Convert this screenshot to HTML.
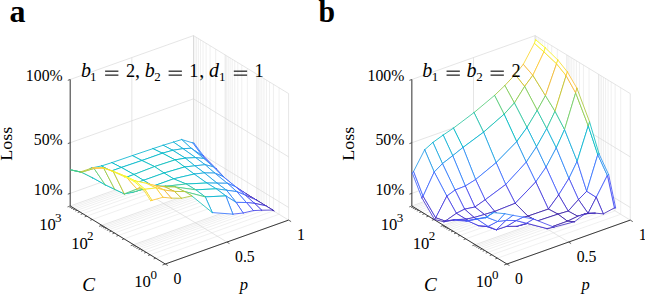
<!DOCTYPE html><html><head><meta charset="utf-8"><style>html,body{margin:0;padding:0;background:#fff;}svg{display:block;}</style></head><body><svg width="645" height="295" viewBox="0 0 645 295" font-family="&quot;Liberation Serif&quot;, serif" fill="#000">
<rect width="645" height="295" fill="#fff"/>
<line x1="155.76" y1="258.18" x2="279.06" y2="214.28" stroke="#e4e4e4" stroke-width="0.55"/>
<line x1="150.18" y1="254.78" x2="273.48" y2="210.88" stroke="#e4e4e4" stroke-width="0.55"/>
<line x1="146.21" y1="252.36" x2="269.51" y2="208.46" stroke="#e4e4e4" stroke-width="0.55"/>
<line x1="143.14" y1="250.49" x2="266.44" y2="206.59" stroke="#e4e4e4" stroke-width="0.55"/>
<line x1="140.63" y1="248.96" x2="263.93" y2="205.06" stroke="#e4e4e4" stroke-width="0.55"/>
<line x1="138.51" y1="247.66" x2="261.81" y2="203.76" stroke="#e4e4e4" stroke-width="0.55"/>
<line x1="136.67" y1="246.54" x2="259.97" y2="202.64" stroke="#e4e4e4" stroke-width="0.55"/>
<line x1="135.05" y1="245.55" x2="258.35" y2="201.65" stroke="#e4e4e4" stroke-width="0.55"/>
<line x1="124.06" y1="238.85" x2="247.36" y2="194.95" stroke="#e4e4e4" stroke-width="0.55"/>
<line x1="118.48" y1="235.44" x2="241.78" y2="191.54" stroke="#e4e4e4" stroke-width="0.55"/>
<line x1="114.51" y1="233.03" x2="237.81" y2="189.13" stroke="#e4e4e4" stroke-width="0.55"/>
<line x1="111.44" y1="231.15" x2="234.74" y2="187.25" stroke="#e4e4e4" stroke-width="0.55"/>
<line x1="108.93" y1="229.62" x2="232.23" y2="185.72" stroke="#e4e4e4" stroke-width="0.55"/>
<line x1="106.81" y1="228.33" x2="230.11" y2="184.43" stroke="#e4e4e4" stroke-width="0.55"/>
<line x1="104.97" y1="227.21" x2="228.27" y2="183.31" stroke="#e4e4e4" stroke-width="0.55"/>
<line x1="103.35" y1="226.22" x2="226.65" y2="182.32" stroke="#e4e4e4" stroke-width="0.55"/>
<line x1="92.36" y1="219.51" x2="215.66" y2="175.61" stroke="#e4e4e4" stroke-width="0.55"/>
<line x1="86.78" y1="216.11" x2="210.08" y2="172.21" stroke="#e4e4e4" stroke-width="0.55"/>
<line x1="82.81" y1="213.69" x2="206.11" y2="169.79" stroke="#e4e4e4" stroke-width="0.55"/>
<line x1="79.74" y1="211.82" x2="203.04" y2="167.92" stroke="#e4e4e4" stroke-width="0.55"/>
<line x1="77.23" y1="210.29" x2="200.53" y2="166.39" stroke="#e4e4e4" stroke-width="0.55"/>
<line x1="75.11" y1="208.99" x2="198.41" y2="165.09" stroke="#e4e4e4" stroke-width="0.55"/>
<line x1="73.27" y1="207.87" x2="196.57" y2="163.97" stroke="#e4e4e4" stroke-width="0.55"/>
<line x1="71.65" y1="206.88" x2="194.95" y2="162.98" stroke="#e4e4e4" stroke-width="0.55"/>
<line x1="165.3" y1="264" x2="288.6" y2="220.1" stroke="#d4d4d4" stroke-width="0.6"/>
<line x1="133.6" y1="244.67" x2="256.9" y2="200.77" stroke="#d4d4d4" stroke-width="0.6"/>
<line x1="101.9" y1="225.33" x2="225.2" y2="181.43" stroke="#d4d4d4" stroke-width="0.6"/>
<line x1="70.2" y1="206" x2="193.5" y2="162.1" stroke="#d4d4d4" stroke-width="0.6"/>
<line x1="165.3" y1="264" x2="70.2" y2="206" stroke="#d4d4d4" stroke-width="0.6"/>
<line x1="226.95" y1="242.05" x2="131.85" y2="184.05" stroke="#d4d4d4" stroke-width="0.6"/>
<line x1="288.6" y1="220.1" x2="193.5" y2="162.1" stroke="#d4d4d4" stroke-width="0.6"/>
<line x1="279.06" y1="214.28" x2="279.06" y2="87.78" stroke="#e4e4e4" stroke-width="0.55"/>
<line x1="273.48" y1="210.88" x2="273.48" y2="84.38" stroke="#e4e4e4" stroke-width="0.55"/>
<line x1="269.51" y1="208.46" x2="269.51" y2="81.96" stroke="#e4e4e4" stroke-width="0.55"/>
<line x1="266.44" y1="206.59" x2="266.44" y2="80.09" stroke="#e4e4e4" stroke-width="0.55"/>
<line x1="263.93" y1="205.06" x2="263.93" y2="78.56" stroke="#e4e4e4" stroke-width="0.55"/>
<line x1="261.81" y1="203.76" x2="261.81" y2="77.26" stroke="#e4e4e4" stroke-width="0.55"/>
<line x1="259.97" y1="202.64" x2="259.97" y2="76.14" stroke="#e4e4e4" stroke-width="0.55"/>
<line x1="258.35" y1="201.65" x2="258.35" y2="75.15" stroke="#e4e4e4" stroke-width="0.55"/>
<line x1="247.36" y1="194.95" x2="247.36" y2="68.45" stroke="#e4e4e4" stroke-width="0.55"/>
<line x1="241.78" y1="191.54" x2="241.78" y2="65.04" stroke="#e4e4e4" stroke-width="0.55"/>
<line x1="237.81" y1="189.13" x2="237.81" y2="62.63" stroke="#e4e4e4" stroke-width="0.55"/>
<line x1="234.74" y1="187.25" x2="234.74" y2="60.75" stroke="#e4e4e4" stroke-width="0.55"/>
<line x1="232.23" y1="185.72" x2="232.23" y2="59.22" stroke="#e4e4e4" stroke-width="0.55"/>
<line x1="230.11" y1="184.43" x2="230.11" y2="57.93" stroke="#e4e4e4" stroke-width="0.55"/>
<line x1="228.27" y1="183.31" x2="228.27" y2="56.81" stroke="#e4e4e4" stroke-width="0.55"/>
<line x1="226.65" y1="182.32" x2="226.65" y2="55.82" stroke="#e4e4e4" stroke-width="0.55"/>
<line x1="215.66" y1="175.61" x2="215.66" y2="49.11" stroke="#e4e4e4" stroke-width="0.55"/>
<line x1="210.08" y1="172.21" x2="210.08" y2="45.71" stroke="#e4e4e4" stroke-width="0.55"/>
<line x1="206.11" y1="169.79" x2="206.11" y2="43.29" stroke="#e4e4e4" stroke-width="0.55"/>
<line x1="203.04" y1="167.92" x2="203.04" y2="41.42" stroke="#e4e4e4" stroke-width="0.55"/>
<line x1="200.53" y1="166.39" x2="200.53" y2="39.89" stroke="#e4e4e4" stroke-width="0.55"/>
<line x1="198.41" y1="165.09" x2="198.41" y2="38.59" stroke="#e4e4e4" stroke-width="0.55"/>
<line x1="196.57" y1="163.97" x2="196.57" y2="37.47" stroke="#e4e4e4" stroke-width="0.55"/>
<line x1="194.95" y1="162.98" x2="194.95" y2="36.48" stroke="#e4e4e4" stroke-width="0.55"/>
<line x1="288.6" y1="220.1" x2="288.6" y2="93.6" stroke="#d4d4d4" stroke-width="0.6"/>
<line x1="256.9" y1="200.77" x2="256.9" y2="74.27" stroke="#d4d4d4" stroke-width="0.6"/>
<line x1="225.2" y1="181.43" x2="225.2" y2="54.93" stroke="#d4d4d4" stroke-width="0.6"/>
<line x1="193.5" y1="162.1" x2="193.5" y2="35.6" stroke="#d4d4d4" stroke-width="0.6"/>
<line x1="288.6" y1="207.45" x2="193.5" y2="149.45" stroke="#d4d4d4" stroke-width="0.6"/>
<line x1="288.6" y1="156.85" x2="193.5" y2="98.85" stroke="#d4d4d4" stroke-width="0.6"/>
<line x1="288.6" y1="93.6" x2="193.5" y2="35.6" stroke="#d4d4d4" stroke-width="0.6"/>
<line x1="70.2" y1="206" x2="70.2" y2="79.5" stroke="#d4d4d4" stroke-width="0.6"/>
<line x1="131.85" y1="184.05" x2="131.85" y2="57.55" stroke="#d4d4d4" stroke-width="0.6"/>
<line x1="193.5" y1="162.1" x2="193.5" y2="35.6" stroke="#d4d4d4" stroke-width="0.6"/>
<line x1="70.2" y1="193.35" x2="193.5" y2="149.45" stroke="#d4d4d4" stroke-width="0.6"/>
<line x1="70.2" y1="142.75" x2="193.5" y2="98.85" stroke="#d4d4d4" stroke-width="0.6"/>
<line x1="70.2" y1="79.5" x2="193.5" y2="35.6" stroke="#d4d4d4" stroke-width="0.6"/>
<line x1="70.2" y1="206" x2="70.2" y2="79.5" stroke="#3a3a3a" stroke-width="1.0"/>
<line x1="165.3" y1="264" x2="70.2" y2="206" stroke="#3a3a3a" stroke-width="1.0"/>
<line x1="165.3" y1="264" x2="288.6" y2="220.1" stroke="#3a3a3a" stroke-width="1.0"/>
<line x1="70.2" y1="193.35" x2="67.8" y2="194.2" stroke="#3a3a3a" stroke-width="0.8"/>
<line x1="70.2" y1="142.75" x2="67.8" y2="143.6" stroke="#3a3a3a" stroke-width="0.8"/>
<line x1="70.2" y1="79.5" x2="67.8" y2="80.35" stroke="#3a3a3a" stroke-width="0.8"/>
<line x1="165.3" y1="264" x2="162.47" y2="265" stroke="#3a3a3a" stroke-width="0.8"/>
<line x1="155.76" y1="258.18" x2="153.68" y2="258.92" stroke="#3a3a3a" stroke-width="0.8"/>
<line x1="150.18" y1="254.78" x2="148.1" y2="255.51" stroke="#3a3a3a" stroke-width="0.8"/>
<line x1="146.21" y1="252.36" x2="144.14" y2="253.1" stroke="#3a3a3a" stroke-width="0.8"/>
<line x1="143.14" y1="250.49" x2="141.07" y2="251.22" stroke="#3a3a3a" stroke-width="0.8"/>
<line x1="140.63" y1="248.96" x2="138.56" y2="249.69" stroke="#3a3a3a" stroke-width="0.8"/>
<line x1="138.51" y1="247.66" x2="136.44" y2="248.4" stroke="#3a3a3a" stroke-width="0.8"/>
<line x1="136.67" y1="246.54" x2="134.6" y2="247.28" stroke="#3a3a3a" stroke-width="0.8"/>
<line x1="135.05" y1="245.55" x2="132.98" y2="246.29" stroke="#3a3a3a" stroke-width="0.8"/>
<line x1="133.6" y1="244.67" x2="130.77" y2="245.67" stroke="#3a3a3a" stroke-width="0.8"/>
<line x1="124.06" y1="238.85" x2="121.98" y2="239.58" stroke="#3a3a3a" stroke-width="0.8"/>
<line x1="118.48" y1="235.44" x2="116.4" y2="236.18" stroke="#3a3a3a" stroke-width="0.8"/>
<line x1="114.51" y1="233.03" x2="112.44" y2="233.76" stroke="#3a3a3a" stroke-width="0.8"/>
<line x1="111.44" y1="231.15" x2="109.37" y2="231.89" stroke="#3a3a3a" stroke-width="0.8"/>
<line x1="108.93" y1="229.62" x2="106.86" y2="230.36" stroke="#3a3a3a" stroke-width="0.8"/>
<line x1="106.81" y1="228.33" x2="104.74" y2="229.07" stroke="#3a3a3a" stroke-width="0.8"/>
<line x1="104.97" y1="227.21" x2="102.9" y2="227.94" stroke="#3a3a3a" stroke-width="0.8"/>
<line x1="103.35" y1="226.22" x2="101.28" y2="226.95" stroke="#3a3a3a" stroke-width="0.8"/>
<line x1="101.9" y1="225.33" x2="99.07" y2="226.34" stroke="#3a3a3a" stroke-width="0.8"/>
<line x1="92.36" y1="219.51" x2="90.28" y2="220.25" stroke="#3a3a3a" stroke-width="0.8"/>
<line x1="86.78" y1="216.11" x2="84.7" y2="216.85" stroke="#3a3a3a" stroke-width="0.8"/>
<line x1="82.81" y1="213.69" x2="80.74" y2="214.43" stroke="#3a3a3a" stroke-width="0.8"/>
<line x1="79.74" y1="211.82" x2="77.67" y2="212.56" stroke="#3a3a3a" stroke-width="0.8"/>
<line x1="77.23" y1="210.29" x2="75.16" y2="211.03" stroke="#3a3a3a" stroke-width="0.8"/>
<line x1="75.11" y1="208.99" x2="73.04" y2="209.73" stroke="#3a3a3a" stroke-width="0.8"/>
<line x1="73.27" y1="207.87" x2="71.2" y2="208.61" stroke="#3a3a3a" stroke-width="0.8"/>
<line x1="71.65" y1="206.88" x2="69.58" y2="207.62" stroke="#3a3a3a" stroke-width="0.8"/>
<line x1="70.2" y1="206" x2="67.47" y2="206.97" stroke="#3a3a3a" stroke-width="0.7"/>
<line x1="165.3" y1="264" x2="167.8" y2="265.52" stroke="#3a3a3a" stroke-width="0.8"/>
<line x1="226.95" y1="242.05" x2="229.45" y2="243.57" stroke="#3a3a3a" stroke-width="0.8"/>
<line x1="288.6" y1="220.1" x2="291.1" y2="221.62" stroke="#3a3a3a" stroke-width="0.8"/>
<polygon points="202.31,155.71 203.54,155.9 194,143.12 192.77,142.93" fill="#fff" stroke="none"/>
<line x1="202.31" y1="155.71" x2="203.54" y2="155.9" stroke="#4563fd" stroke-width="0.85" stroke-linecap="round"/>
<line x1="203.54" y1="155.9" x2="194" y2="143.12" stroke="#3875fe" stroke-width="0.85" stroke-linecap="round"/>
<line x1="194" y1="143.12" x2="192.77" y2="142.93" stroke="#2d8cf3" stroke-width="0.85" stroke-linecap="round"/>
<line x1="192.77" y1="142.93" x2="202.31" y2="155.71" stroke="#327cfc" stroke-width="0.85" stroke-linecap="round"/>
<polygon points="191.21,148.27 202.31,155.71 192.77,142.93 181.67,139.55" fill="#fff" stroke="none"/>
<line x1="191.21" y1="148.27" x2="202.31" y2="155.71" stroke="#2e87f7" stroke-width="0.85" stroke-linecap="round"/>
<line x1="202.31" y1="155.71" x2="192.77" y2="142.93" stroke="#327cfc" stroke-width="0.85" stroke-linecap="round"/>
<line x1="192.77" y1="142.93" x2="181.67" y2="139.55" stroke="#23a0e5" stroke-width="0.85" stroke-linecap="round"/>
<line x1="181.67" y1="139.55" x2="191.21" y2="148.27" stroke="#1ca9df" stroke-width="0.85" stroke-linecap="round"/>
<polygon points="214.92,168.46 216.16,168.66 203.54,155.9 202.31,155.71" fill="#fff" stroke="none"/>
<line x1="214.92" y1="168.46" x2="216.16" y2="168.66" stroke="#4747eb" stroke-width="0.85" stroke-linecap="round"/>
<line x1="216.16" y1="168.66" x2="203.54" y2="155.9" stroke="#4852f4" stroke-width="0.85" stroke-linecap="round"/>
<line x1="203.54" y1="155.9" x2="202.31" y2="155.71" stroke="#4563fd" stroke-width="0.85" stroke-linecap="round"/>
<line x1="202.31" y1="155.71" x2="214.92" y2="168.46" stroke="#4758f8" stroke-width="0.85" stroke-linecap="round"/>
<polygon points="182.99,148.67 191.21,148.27 181.67,139.55 173.45,142.09" fill="#fff" stroke="none"/>
<line x1="182.99" y1="148.67" x2="191.21" y2="148.27" stroke="#1ca9df" stroke-width="0.85" stroke-linecap="round"/>
<line x1="191.21" y1="148.27" x2="181.67" y2="139.55" stroke="#1ca9df" stroke-width="0.85" stroke-linecap="round"/>
<line x1="181.67" y1="139.55" x2="173.45" y2="142.09" stroke="#12b1d6" stroke-width="0.85" stroke-linecap="round"/>
<line x1="173.45" y1="142.09" x2="182.99" y2="148.67" stroke="#12b1d6" stroke-width="0.85" stroke-linecap="round"/>
<polygon points="203.83,158.5 214.92,168.46 202.31,155.71 191.21,148.27" fill="#fff" stroke="none"/>
<line x1="203.83" y1="158.5" x2="214.92" y2="168.46" stroke="#3e6fff" stroke-width="0.85" stroke-linecap="round"/>
<line x1="214.92" y1="168.46" x2="202.31" y2="155.71" stroke="#4758f8" stroke-width="0.85" stroke-linecap="round"/>
<line x1="202.31" y1="155.71" x2="191.21" y2="148.27" stroke="#2e87f7" stroke-width="0.85" stroke-linecap="round"/>
<line x1="191.21" y1="148.27" x2="203.83" y2="158.5" stroke="#23a0e5" stroke-width="0.85" stroke-linecap="round"/>
<polygon points="224.47,179.34 225.7,178.9 216.16,168.66 214.92,168.46" fill="#fff" stroke="none"/>
<line x1="224.47" y1="179.34" x2="225.7" y2="178.9" stroke="#422ec0" stroke-width="0.85" stroke-linecap="round"/>
<line x1="225.7" y1="178.9" x2="216.16" y2="168.66" stroke="#4537d5" stroke-width="0.85" stroke-linecap="round"/>
<line x1="216.16" y1="168.66" x2="214.92" y2="168.46" stroke="#4747eb" stroke-width="0.85" stroke-linecap="round"/>
<line x1="214.92" y1="168.46" x2="224.47" y2="179.34" stroke="#463cde" stroke-width="0.85" stroke-linecap="round"/>
<polygon points="172.72,150.31 182.99,148.67 173.45,142.09 163.17,145.24" fill="#fff" stroke="none"/>
<line x1="172.72" y1="150.31" x2="182.99" y2="148.67" stroke="#12b1d6" stroke-width="0.85" stroke-linecap="round"/>
<line x1="182.99" y1="148.67" x2="173.45" y2="142.09" stroke="#12b1d6" stroke-width="0.85" stroke-linecap="round"/>
<line x1="173.45" y1="142.09" x2="163.17" y2="145.24" stroke="#12b1d6" stroke-width="0.85" stroke-linecap="round"/>
<line x1="163.17" y1="145.24" x2="172.72" y2="150.31" stroke="#08b5d0" stroke-width="0.85" stroke-linecap="round"/>
<polygon points="195.61,157.63 203.83,158.5 191.21,148.27 182.99,148.67" fill="#fff" stroke="none"/>
<line x1="195.61" y1="157.63" x2="203.83" y2="158.5" stroke="#23a0e5" stroke-width="0.85" stroke-linecap="round"/>
<line x1="203.83" y1="158.5" x2="191.21" y2="148.27" stroke="#23a0e5" stroke-width="0.85" stroke-linecap="round"/>
<line x1="191.21" y1="148.27" x2="182.99" y2="148.67" stroke="#1ca9df" stroke-width="0.85" stroke-linecap="round"/>
<line x1="182.99" y1="148.67" x2="195.61" y2="157.63" stroke="#18addb" stroke-width="0.85" stroke-linecap="round"/>
<polygon points="213.37,166.85 224.47,179.34 214.92,168.46 203.83,158.5" fill="#fff" stroke="none"/>
<line x1="213.37" y1="166.85" x2="224.47" y2="179.34" stroke="#4758f8" stroke-width="0.85" stroke-linecap="round"/>
<line x1="224.47" y1="179.34" x2="214.92" y2="168.46" stroke="#463cde" stroke-width="0.85" stroke-linecap="round"/>
<line x1="214.92" y1="168.46" x2="203.83" y2="158.5" stroke="#3e6fff" stroke-width="0.85" stroke-linecap="round"/>
<line x1="203.83" y1="158.5" x2="213.37" y2="166.85" stroke="#2b91ef" stroke-width="0.85" stroke-linecap="round"/>
<polygon points="234.01,186.43 235.24,187.25 225.7,178.9 224.47,179.34" fill="#fff" stroke="none"/>
<line x1="234.01" y1="186.43" x2="235.24" y2="187.25" stroke="#3e26a8" stroke-width="0.85" stroke-linecap="round"/>
<line x1="235.24" y1="187.25" x2="225.7" y2="178.9" stroke="#402ab4" stroke-width="0.85" stroke-linecap="round"/>
<line x1="225.7" y1="178.9" x2="224.47" y2="179.34" stroke="#422ec0" stroke-width="0.85" stroke-linecap="round"/>
<line x1="224.47" y1="179.34" x2="234.01" y2="186.43" stroke="#402ab4" stroke-width="0.85" stroke-linecap="round"/>
<polygon points="162.44,153.21 172.72,150.31 163.17,145.24 152.9,148.65" fill="#fff" stroke="none"/>
<line x1="162.44" y1="153.21" x2="172.72" y2="150.31" stroke="#01b8ca" stroke-width="0.85" stroke-linecap="round"/>
<line x1="172.72" y1="150.31" x2="163.17" y2="145.24" stroke="#08b5d0" stroke-width="0.85" stroke-linecap="round"/>
<line x1="163.17" y1="145.24" x2="152.9" y2="148.65" stroke="#08b5d0" stroke-width="0.85" stroke-linecap="round"/>
<line x1="152.9" y1="148.65" x2="162.44" y2="153.21" stroke="#01b8ca" stroke-width="0.85" stroke-linecap="round"/>
<polygon points="185.33,158.13 195.61,157.63 182.99,148.67 172.72,150.31" fill="#fff" stroke="none"/>
<line x1="185.33" y1="158.13" x2="195.61" y2="157.63" stroke="#12b1d6" stroke-width="0.85" stroke-linecap="round"/>
<line x1="195.61" y1="157.63" x2="182.99" y2="148.67" stroke="#18addb" stroke-width="0.85" stroke-linecap="round"/>
<line x1="182.99" y1="148.67" x2="172.72" y2="150.31" stroke="#12b1d6" stroke-width="0.85" stroke-linecap="round"/>
<line x1="172.72" y1="150.31" x2="185.33" y2="158.13" stroke="#08b5d0" stroke-width="0.85" stroke-linecap="round"/>
<polygon points="222.91,176.46 234.01,186.43 224.47,179.34 213.37,166.85" fill="#fff" stroke="none"/>
<line x1="222.91" y1="176.46" x2="234.01" y2="186.43" stroke="#484df0" stroke-width="0.85" stroke-linecap="round"/>
<line x1="234.01" y1="186.43" x2="224.47" y2="179.34" stroke="#402ab4" stroke-width="0.85" stroke-linecap="round"/>
<line x1="224.47" y1="179.34" x2="213.37" y2="166.85" stroke="#4758f8" stroke-width="0.85" stroke-linecap="round"/>
<line x1="213.37" y1="166.85" x2="222.91" y2="176.46" stroke="#2f81fa" stroke-width="0.85" stroke-linecap="round"/>
<polygon points="205.15,164.72 213.37,166.85 203.83,158.5 195.61,157.63" fill="#fff" stroke="none"/>
<line x1="205.15" y1="164.72" x2="213.37" y2="166.85" stroke="#2797eb" stroke-width="0.85" stroke-linecap="round"/>
<line x1="213.37" y1="166.85" x2="203.83" y2="158.5" stroke="#2b91ef" stroke-width="0.85" stroke-linecap="round"/>
<line x1="203.83" y1="158.5" x2="195.61" y2="157.63" stroke="#23a0e5" stroke-width="0.85" stroke-linecap="round"/>
<line x1="195.61" y1="157.63" x2="205.15" y2="164.72" stroke="#20a5e3" stroke-width="0.85" stroke-linecap="round"/>
<polygon points="141.89,160.52 162.44,153.21 152.9,148.65 132.35,155.59" fill="#fff" stroke="none"/>
<line x1="141.89" y1="160.52" x2="162.44" y2="153.21" stroke="#01b8ca" stroke-width="0.85" stroke-linecap="round"/>
<line x1="162.44" y1="153.21" x2="152.9" y2="148.65" stroke="#01b8ca" stroke-width="0.85" stroke-linecap="round"/>
<line x1="152.9" y1="148.65" x2="132.35" y2="155.59" stroke="#08b5d0" stroke-width="0.85" stroke-linecap="round"/>
<line x1="132.35" y1="155.59" x2="141.89" y2="160.52" stroke="#01b8ca" stroke-width="0.85" stroke-linecap="round"/>
<polygon points="246.62,194.12 247.86,194.95 235.24,187.25 234.01,186.43" fill="#fff" stroke="none"/>
<line x1="246.62" y1="194.12" x2="247.86" y2="194.95" stroke="#3e26a8" stroke-width="0.85" stroke-linecap="round"/>
<line x1="247.86" y1="194.95" x2="235.24" y2="187.25" stroke="#3e26a8" stroke-width="0.85" stroke-linecap="round"/>
<line x1="235.24" y1="187.25" x2="234.01" y2="186.43" stroke="#3e26a8" stroke-width="0.85" stroke-linecap="round"/>
<line x1="234.01" y1="186.43" x2="246.62" y2="194.12" stroke="#402ab4" stroke-width="0.85" stroke-linecap="round"/>
<polygon points="175.06,159.89 185.33,158.13 172.72,150.31 162.44,153.21" fill="#fff" stroke="none"/>
<line x1="175.06" y1="159.89" x2="185.33" y2="158.13" stroke="#01b8ca" stroke-width="0.85" stroke-linecap="round"/>
<line x1="185.33" y1="158.13" x2="172.72" y2="150.31" stroke="#08b5d0" stroke-width="0.85" stroke-linecap="round"/>
<line x1="172.72" y1="150.31" x2="162.44" y2="153.21" stroke="#01b8ca" stroke-width="0.85" stroke-linecap="round"/>
<line x1="162.44" y1="153.21" x2="175.06" y2="159.89" stroke="#02bac3" stroke-width="0.85" stroke-linecap="round"/>
<polygon points="194.88,165.84 205.15,164.72 195.61,157.63 185.33,158.13" fill="#fff" stroke="none"/>
<line x1="194.88" y1="165.84" x2="205.15" y2="164.72" stroke="#1ca9df" stroke-width="0.85" stroke-linecap="round"/>
<line x1="205.15" y1="164.72" x2="195.61" y2="157.63" stroke="#20a5e3" stroke-width="0.85" stroke-linecap="round"/>
<line x1="195.61" y1="157.63" x2="185.33" y2="158.13" stroke="#12b1d6" stroke-width="0.85" stroke-linecap="round"/>
<line x1="185.33" y1="158.13" x2="194.88" y2="165.84" stroke="#12b1d6" stroke-width="0.85" stroke-linecap="round"/>
<polygon points="235.53,186.69 246.62,194.12 234.01,186.43 222.91,176.46" fill="#fff" stroke="none"/>
<line x1="235.53" y1="186.69" x2="246.62" y2="194.12" stroke="#4747eb" stroke-width="0.85" stroke-linecap="round"/>
<line x1="246.62" y1="194.12" x2="234.01" y2="186.43" stroke="#402ab4" stroke-width="0.85" stroke-linecap="round"/>
<line x1="234.01" y1="186.43" x2="222.91" y2="176.46" stroke="#484df0" stroke-width="0.85" stroke-linecap="round"/>
<line x1="222.91" y1="176.46" x2="235.53" y2="186.69" stroke="#3e6fff" stroke-width="0.85" stroke-linecap="round"/>
<polygon points="214.69,173.06 222.91,176.46 213.37,166.85 205.15,164.72" fill="#fff" stroke="none"/>
<line x1="214.69" y1="173.06" x2="222.91" y2="176.46" stroke="#2e87f7" stroke-width="0.85" stroke-linecap="round"/>
<line x1="222.91" y1="176.46" x2="213.37" y2="166.85" stroke="#2f81fa" stroke-width="0.85" stroke-linecap="round"/>
<line x1="213.37" y1="166.85" x2="205.15" y2="164.72" stroke="#2797eb" stroke-width="0.85" stroke-linecap="round"/>
<line x1="205.15" y1="164.72" x2="214.69" y2="173.06" stroke="#23a0e5" stroke-width="0.85" stroke-linecap="round"/>
<polygon points="256.17,199.94 257.4,200.77 247.86,194.95 246.62,194.12" fill="#fff" stroke="none"/>
<line x1="256.17" y1="199.94" x2="257.4" y2="200.77" stroke="#3e26a8" stroke-width="0.85" stroke-linecap="round"/>
<line x1="257.4" y1="200.77" x2="247.86" y2="194.95" stroke="#3e26a8" stroke-width="0.85" stroke-linecap="round"/>
<line x1="247.86" y1="194.95" x2="246.62" y2="194.12" stroke="#3e26a8" stroke-width="0.85" stroke-linecap="round"/>
<line x1="246.62" y1="194.12" x2="256.17" y2="199.94" stroke="#402ab4" stroke-width="0.85" stroke-linecap="round"/>
<polygon points="154.51,166.57 175.06,159.89 162.44,153.21 141.89,160.52" fill="#fff" stroke="none"/>
<line x1="154.51" y1="166.57" x2="175.06" y2="159.89" stroke="#0bbdbd" stroke-width="0.85" stroke-linecap="round"/>
<line x1="175.06" y1="159.89" x2="162.44" y2="153.21" stroke="#02bac3" stroke-width="0.85" stroke-linecap="round"/>
<line x1="162.44" y1="153.21" x2="141.89" y2="160.52" stroke="#01b8ca" stroke-width="0.85" stroke-linecap="round"/>
<line x1="141.89" y1="160.52" x2="154.51" y2="166.57" stroke="#02bac3" stroke-width="0.85" stroke-linecap="round"/>
<polygon points="121.34,167.46 141.89,160.52 132.35,155.59 111.8,162.65" fill="#fff" stroke="none"/>
<line x1="121.34" y1="167.46" x2="141.89" y2="160.52" stroke="#01b8ca" stroke-width="0.85" stroke-linecap="round"/>
<line x1="141.89" y1="160.52" x2="132.35" y2="155.59" stroke="#01b8ca" stroke-width="0.85" stroke-linecap="round"/>
<line x1="132.35" y1="155.59" x2="111.8" y2="162.65" stroke="#08b5d0" stroke-width="0.85" stroke-linecap="round"/>
<line x1="111.8" y1="162.65" x2="121.34" y2="167.46" stroke="#01b8ca" stroke-width="0.85" stroke-linecap="round"/>
<polygon points="184.6,166.97 194.88,165.84 185.33,158.13 175.06,159.89" fill="#fff" stroke="none"/>
<line x1="184.6" y1="166.97" x2="194.88" y2="165.84" stroke="#08b5d0" stroke-width="0.85" stroke-linecap="round"/>
<line x1="194.88" y1="165.84" x2="185.33" y2="158.13" stroke="#12b1d6" stroke-width="0.85" stroke-linecap="round"/>
<line x1="185.33" y1="158.13" x2="175.06" y2="159.89" stroke="#01b8ca" stroke-width="0.85" stroke-linecap="round"/>
<line x1="175.06" y1="159.89" x2="184.6" y2="166.97" stroke="#02bac3" stroke-width="0.85" stroke-linecap="round"/>
<polygon points="204.42,172.93 214.69,173.06 205.15,164.72 194.88,165.84" fill="#fff" stroke="none"/>
<line x1="204.42" y1="172.93" x2="214.69" y2="173.06" stroke="#23a0e5" stroke-width="0.85" stroke-linecap="round"/>
<line x1="214.69" y1="173.06" x2="205.15" y2="164.72" stroke="#23a0e5" stroke-width="0.85" stroke-linecap="round"/>
<line x1="205.15" y1="164.72" x2="194.88" y2="165.84" stroke="#1ca9df" stroke-width="0.85" stroke-linecap="round"/>
<line x1="194.88" y1="165.84" x2="204.42" y2="172.93" stroke="#18addb" stroke-width="0.85" stroke-linecap="round"/>
<polygon points="227.31,183.29 235.53,186.69 222.91,176.46 214.69,173.06" fill="#fff" stroke="none"/>
<line x1="227.31" y1="183.29" x2="235.53" y2="186.69" stroke="#3875fe" stroke-width="0.85" stroke-linecap="round"/>
<line x1="235.53" y1="186.69" x2="222.91" y2="176.46" stroke="#3e6fff" stroke-width="0.85" stroke-linecap="round"/>
<line x1="222.91" y1="176.46" x2="214.69" y2="173.06" stroke="#2e87f7" stroke-width="0.85" stroke-linecap="round"/>
<line x1="214.69" y1="173.06" x2="227.31" y2="183.29" stroke="#2b91ef" stroke-width="0.85" stroke-linecap="round"/>
<polygon points="245.07,195.04 256.17,199.94 246.62,194.12 235.53,186.69" fill="#fff" stroke="none"/>
<line x1="245.07" y1="195.04" x2="256.17" y2="199.94" stroke="#463cde" stroke-width="0.85" stroke-linecap="round"/>
<line x1="256.17" y1="199.94" x2="246.62" y2="194.12" stroke="#402ab4" stroke-width="0.85" stroke-linecap="round"/>
<line x1="246.62" y1="194.12" x2="235.53" y2="186.69" stroke="#4747eb" stroke-width="0.85" stroke-linecap="round"/>
<line x1="235.53" y1="186.69" x2="245.07" y2="195.04" stroke="#465efb" stroke-width="0.85" stroke-linecap="round"/>
<polygon points="265.71,205.76 266.94,206.59 257.4,200.77 256.17,199.94" fill="#fff" stroke="none"/>
<line x1="265.71" y1="205.76" x2="266.94" y2="206.59" stroke="#3e26a8" stroke-width="0.85" stroke-linecap="round"/>
<line x1="266.94" y1="206.59" x2="257.4" y2="200.77" stroke="#3e26a8" stroke-width="0.85" stroke-linecap="round"/>
<line x1="257.4" y1="200.77" x2="256.17" y2="199.94" stroke="#3e26a8" stroke-width="0.85" stroke-linecap="round"/>
<line x1="256.17" y1="199.94" x2="265.71" y2="205.76" stroke="#402ab4" stroke-width="0.85" stroke-linecap="round"/>
<polygon points="111.07,171.12 121.34,167.46 111.8,162.65 101.53,165.93" fill="#fff" stroke="none"/>
<line x1="111.07" y1="171.12" x2="121.34" y2="167.46" stroke="#02bac3" stroke-width="0.85" stroke-linecap="round"/>
<line x1="121.34" y1="167.46" x2="111.8" y2="162.65" stroke="#01b8ca" stroke-width="0.85" stroke-linecap="round"/>
<line x1="111.8" y1="162.65" x2="101.53" y2="165.93" stroke="#01b8ca" stroke-width="0.85" stroke-linecap="round"/>
<line x1="101.53" y1="165.93" x2="111.07" y2="171.12" stroke="#01b8ca" stroke-width="0.85" stroke-linecap="round"/>
<polygon points="194.14,174.06 204.42,172.93 194.88,165.84 184.6,166.97" fill="#fff" stroke="none"/>
<line x1="194.14" y1="174.06" x2="204.42" y2="172.93" stroke="#18addb" stroke-width="0.85" stroke-linecap="round"/>
<line x1="204.42" y1="172.93" x2="194.88" y2="165.84" stroke="#18addb" stroke-width="0.85" stroke-linecap="round"/>
<line x1="194.88" y1="165.84" x2="184.6" y2="166.97" stroke="#08b5d0" stroke-width="0.85" stroke-linecap="round"/>
<line x1="184.6" y1="166.97" x2="194.14" y2="174.06" stroke="#08b5d0" stroke-width="0.85" stroke-linecap="round"/>
<polygon points="164.05,173.02 184.6,166.97 175.06,159.89 154.51,166.57" fill="#fff" stroke="none"/>
<line x1="164.05" y1="173.02" x2="184.6" y2="166.97" stroke="#02bac3" stroke-width="0.85" stroke-linecap="round"/>
<line x1="184.6" y1="166.97" x2="175.06" y2="159.89" stroke="#02bac3" stroke-width="0.85" stroke-linecap="round"/>
<line x1="175.06" y1="159.89" x2="154.51" y2="166.57" stroke="#0bbdbd" stroke-width="0.85" stroke-linecap="round"/>
<line x1="154.51" y1="166.57" x2="164.05" y2="173.02" stroke="#0bbdbd" stroke-width="0.85" stroke-linecap="round"/>
<polygon points="133.96,174.52 154.51,166.57 141.89,160.52 121.34,167.46" fill="#fff" stroke="none"/>
<line x1="133.96" y1="174.52" x2="154.51" y2="166.57" stroke="#0bbdbd" stroke-width="0.85" stroke-linecap="round"/>
<line x1="154.51" y1="166.57" x2="141.89" y2="160.52" stroke="#02bac3" stroke-width="0.85" stroke-linecap="round"/>
<line x1="141.89" y1="160.52" x2="121.34" y2="167.46" stroke="#01b8ca" stroke-width="0.85" stroke-linecap="round"/>
<line x1="121.34" y1="167.46" x2="133.96" y2="174.52" stroke="#02bac3" stroke-width="0.85" stroke-linecap="round"/>
<polygon points="217.03,183.15 227.31,183.29 214.69,173.06 204.42,172.93" fill="#fff" stroke="none"/>
<line x1="217.03" y1="183.15" x2="227.31" y2="183.29" stroke="#2797eb" stroke-width="0.85" stroke-linecap="round"/>
<line x1="227.31" y1="183.29" x2="214.69" y2="173.06" stroke="#2b91ef" stroke-width="0.85" stroke-linecap="round"/>
<line x1="214.69" y1="173.06" x2="204.42" y2="172.93" stroke="#23a0e5" stroke-width="0.85" stroke-linecap="round"/>
<line x1="204.42" y1="172.93" x2="217.03" y2="183.15" stroke="#20a5e3" stroke-width="0.85" stroke-linecap="round"/>
<polygon points="254.61,203.39 265.71,205.76 256.17,199.94 245.07,195.04" fill="#fff" stroke="none"/>
<line x1="254.61" y1="203.39" x2="265.71" y2="205.76" stroke="#4537d5" stroke-width="0.85" stroke-linecap="round"/>
<line x1="265.71" y1="205.76" x2="256.17" y2="199.94" stroke="#402ab4" stroke-width="0.85" stroke-linecap="round"/>
<line x1="256.17" y1="199.94" x2="245.07" y2="195.04" stroke="#463cde" stroke-width="0.85" stroke-linecap="round"/>
<line x1="245.07" y1="195.04" x2="254.61" y2="203.39" stroke="#484df0" stroke-width="0.85" stroke-linecap="round"/>
<polygon points="236.85,191.64 245.07,195.04 235.53,186.69 227.31,183.29" fill="#fff" stroke="none"/>
<line x1="236.85" y1="191.64" x2="245.07" y2="195.04" stroke="#4269fe" stroke-width="0.85" stroke-linecap="round"/>
<line x1="245.07" y1="195.04" x2="235.53" y2="186.69" stroke="#465efb" stroke-width="0.85" stroke-linecap="round"/>
<line x1="235.53" y1="186.69" x2="227.31" y2="183.29" stroke="#3875fe" stroke-width="0.85" stroke-linecap="round"/>
<line x1="227.31" y1="183.29" x2="236.85" y2="191.64" stroke="#2f81fa" stroke-width="0.85" stroke-linecap="round"/>
<polygon points="100.79,174.78 111.07,171.12 101.53,165.93 91.25,168.07" fill="#fff" stroke="none"/>
<line x1="100.79" y1="174.78" x2="111.07" y2="171.12" stroke="#02bac3" stroke-width="0.85" stroke-linecap="round"/>
<line x1="111.07" y1="171.12" x2="101.53" y2="165.93" stroke="#01b8ca" stroke-width="0.85" stroke-linecap="round"/>
<line x1="101.53" y1="165.93" x2="91.25" y2="168.07" stroke="#02bac3" stroke-width="0.85" stroke-linecap="round"/>
<line x1="91.25" y1="168.07" x2="100.79" y2="174.78" stroke="#02bac3" stroke-width="0.85" stroke-linecap="round"/>
<polygon points="272.74,210.05 273.98,210.88 266.94,206.59 265.71,205.76" fill="#fff" stroke="none"/>
<line x1="272.74" y1="210.05" x2="273.98" y2="210.88" stroke="#3e26a8" stroke-width="0.85" stroke-linecap="round"/>
<line x1="273.98" y1="210.88" x2="266.94" y2="206.59" stroke="#3e26a8" stroke-width="0.85" stroke-linecap="round"/>
<line x1="266.94" y1="206.59" x2="265.71" y2="205.76" stroke="#3e26a8" stroke-width="0.85" stroke-linecap="round"/>
<line x1="265.71" y1="205.76" x2="272.74" y2="210.05" stroke="#402ab4" stroke-width="0.85" stroke-linecap="round"/>
<polygon points="173.59,178.84 194.14,174.06 184.6,166.97 164.05,173.02" fill="#fff" stroke="none"/>
<line x1="173.59" y1="178.84" x2="194.14" y2="174.06" stroke="#01b8ca" stroke-width="0.85" stroke-linecap="round"/>
<line x1="194.14" y1="174.06" x2="184.6" y2="166.97" stroke="#08b5d0" stroke-width="0.85" stroke-linecap="round"/>
<line x1="184.6" y1="166.97" x2="164.05" y2="173.02" stroke="#02bac3" stroke-width="0.85" stroke-linecap="round"/>
<line x1="164.05" y1="173.02" x2="173.59" y2="178.84" stroke="#02bac3" stroke-width="0.85" stroke-linecap="round"/>
<polygon points="206.76,183.02 217.03,183.15 204.42,172.93 194.14,174.06" fill="#fff" stroke="none"/>
<line x1="206.76" y1="183.02" x2="217.03" y2="183.15" stroke="#20a5e3" stroke-width="0.85" stroke-linecap="round"/>
<line x1="217.03" y1="183.15" x2="204.42" y2="172.93" stroke="#20a5e3" stroke-width="0.85" stroke-linecap="round"/>
<line x1="204.42" y1="172.93" x2="194.14" y2="174.06" stroke="#18addb" stroke-width="0.85" stroke-linecap="round"/>
<line x1="194.14" y1="174.06" x2="206.76" y2="183.02" stroke="#12b1d6" stroke-width="0.85" stroke-linecap="round"/>
<polygon points="123.68,178.18 133.96,174.52 121.34,167.46 111.07,171.12" fill="#fff" stroke="none"/>
<line x1="123.68" y1="178.18" x2="133.96" y2="174.52" stroke="#02bac3" stroke-width="0.85" stroke-linecap="round"/>
<line x1="133.96" y1="174.52" x2="121.34" y2="167.46" stroke="#02bac3" stroke-width="0.85" stroke-linecap="round"/>
<line x1="121.34" y1="167.46" x2="111.07" y2="171.12" stroke="#02bac3" stroke-width="0.85" stroke-linecap="round"/>
<line x1="111.07" y1="171.12" x2="123.68" y2="178.18" stroke="#02bac3" stroke-width="0.85" stroke-linecap="round"/>
<polygon points="92.57,177.7 100.79,174.78 91.25,168.07 83.03,172.52" fill="#fff" stroke="none"/>
<line x1="92.57" y1="177.7" x2="100.79" y2="174.78" stroke="#02bac3" stroke-width="0.85" stroke-linecap="round"/>
<line x1="100.79" y1="174.78" x2="91.25" y2="168.07" stroke="#02bac3" stroke-width="0.85" stroke-linecap="round"/>
<line x1="91.25" y1="168.07" x2="83.03" y2="172.52" stroke="#02bac3" stroke-width="0.85" stroke-linecap="round"/>
<line x1="83.03" y1="172.52" x2="92.57" y2="177.7" stroke="#01b8ca" stroke-width="0.85" stroke-linecap="round"/>
<polygon points="261.65,210.21 272.74,210.05 265.71,205.76 254.61,203.39" fill="#fff" stroke="none"/>
<line x1="261.65" y1="210.21" x2="272.74" y2="210.05" stroke="#4332cb" stroke-width="0.85" stroke-linecap="round"/>
<line x1="272.74" y1="210.05" x2="265.71" y2="205.76" stroke="#402ab4" stroke-width="0.85" stroke-linecap="round"/>
<line x1="265.71" y1="205.76" x2="254.61" y2="203.39" stroke="#4537d5" stroke-width="0.85" stroke-linecap="round"/>
<line x1="254.61" y1="203.39" x2="261.65" y2="210.21" stroke="#4741e5" stroke-width="0.85" stroke-linecap="round"/>
<polygon points="226.57,190.24 236.85,191.64 227.31,183.29 217.03,183.15" fill="#fff" stroke="none"/>
<line x1="226.57" y1="190.24" x2="236.85" y2="191.64" stroke="#2d8cf3" stroke-width="0.85" stroke-linecap="round"/>
<line x1="236.85" y1="191.64" x2="227.31" y2="183.29" stroke="#2f81fa" stroke-width="0.85" stroke-linecap="round"/>
<line x1="227.31" y1="183.29" x2="217.03" y2="183.15" stroke="#2797eb" stroke-width="0.85" stroke-linecap="round"/>
<line x1="217.03" y1="183.15" x2="226.57" y2="190.24" stroke="#259be8" stroke-width="0.85" stroke-linecap="round"/>
<polygon points="143.5,180.34 164.05,173.02 154.51,166.57 133.96,174.52" fill="#fff" stroke="none"/>
<line x1="143.5" y1="180.34" x2="164.05" y2="173.02" stroke="#02bac3" stroke-width="0.85" stroke-linecap="round"/>
<line x1="164.05" y1="173.02" x2="154.51" y2="166.57" stroke="#0bbdbd" stroke-width="0.85" stroke-linecap="round"/>
<line x1="154.51" y1="166.57" x2="133.96" y2="174.52" stroke="#0bbdbd" stroke-width="0.85" stroke-linecap="round"/>
<line x1="133.96" y1="174.52" x2="143.5" y2="180.34" stroke="#02bac3" stroke-width="0.85" stroke-linecap="round"/>
<polygon points="246.39,202.52 254.61,203.39 245.07,195.04 236.85,191.64" fill="#fff" stroke="none"/>
<line x1="246.39" y1="202.52" x2="254.61" y2="203.39" stroke="#4852f4" stroke-width="0.85" stroke-linecap="round"/>
<line x1="254.61" y1="203.39" x2="245.07" y2="195.04" stroke="#484df0" stroke-width="0.85" stroke-linecap="round"/>
<line x1="245.07" y1="195.04" x2="236.85" y2="191.64" stroke="#4269fe" stroke-width="0.85" stroke-linecap="round"/>
<line x1="236.85" y1="191.64" x2="246.39" y2="202.52" stroke="#3e6fff" stroke-width="0.85" stroke-linecap="round"/>
<polygon points="113.41,181.84 123.68,178.18 111.07,171.12 100.79,174.78" fill="#fff" stroke="none"/>
<line x1="113.41" y1="181.84" x2="123.68" y2="178.18" stroke="#02bac3" stroke-width="0.85" stroke-linecap="round"/>
<line x1="123.68" y1="178.18" x2="111.07" y2="171.12" stroke="#02bac3" stroke-width="0.85" stroke-linecap="round"/>
<line x1="111.07" y1="171.12" x2="100.79" y2="174.78" stroke="#02bac3" stroke-width="0.85" stroke-linecap="round"/>
<line x1="100.79" y1="174.78" x2="113.41" y2="181.84" stroke="#02bac3" stroke-width="0.85" stroke-linecap="round"/>
<polygon points="81.48,172.17 92.57,177.7 83.03,172.52 71.93,170.14" fill="#fff" stroke="none"/>
<line x1="81.48" y1="172.17" x2="92.57" y2="177.7" stroke="#2cc4a7" stroke-width="0.85" stroke-linecap="round"/>
<line x1="92.57" y1="177.7" x2="83.03" y2="172.52" stroke="#01b8ca" stroke-width="0.85" stroke-linecap="round"/>
<line x1="83.03" y1="172.52" x2="71.93" y2="170.14" stroke="#19bfb6" stroke-width="0.85" stroke-linecap="round"/>
<line x1="71.93" y1="170.14" x2="81.48" y2="172.17" stroke="#3fca8e" stroke-width="0.85" stroke-linecap="round"/>
<polygon points="253.43,210.6 261.65,210.21 254.61,203.39 246.39,202.52" fill="#fff" stroke="none"/>
<line x1="253.43" y1="210.6" x2="261.65" y2="210.21" stroke="#4741e5" stroke-width="0.85" stroke-linecap="round"/>
<line x1="261.65" y1="210.21" x2="254.61" y2="203.39" stroke="#4741e5" stroke-width="0.85" stroke-linecap="round"/>
<line x1="254.61" y1="203.39" x2="246.39" y2="202.52" stroke="#4852f4" stroke-width="0.85" stroke-linecap="round"/>
<line x1="246.39" y1="202.52" x2="253.43" y2="210.6" stroke="#4852f4" stroke-width="0.85" stroke-linecap="round"/>
<polygon points="236.12,202.38 246.39,202.52 236.85,191.64 226.57,190.24" fill="#fff" stroke="none"/>
<line x1="236.12" y1="202.38" x2="246.39" y2="202.52" stroke="#4269fe" stroke-width="0.85" stroke-linecap="round"/>
<line x1="246.39" y1="202.52" x2="236.85" y2="191.64" stroke="#3e6fff" stroke-width="0.85" stroke-linecap="round"/>
<line x1="236.85" y1="191.64" x2="226.57" y2="190.24" stroke="#2d8cf3" stroke-width="0.85" stroke-linecap="round"/>
<line x1="226.57" y1="190.24" x2="236.12" y2="202.38" stroke="#2e87f7" stroke-width="0.85" stroke-linecap="round"/>
<polygon points="216.3,188.84 226.57,190.24 217.03,183.15 206.76,183.02" fill="#fff" stroke="none"/>
<line x1="216.3" y1="188.84" x2="226.57" y2="190.24" stroke="#20a5e3" stroke-width="0.85" stroke-linecap="round"/>
<line x1="226.57" y1="190.24" x2="217.03" y2="183.15" stroke="#259be8" stroke-width="0.85" stroke-linecap="round"/>
<line x1="217.03" y1="183.15" x2="206.76" y2="183.02" stroke="#20a5e3" stroke-width="0.85" stroke-linecap="round"/>
<line x1="206.76" y1="183.02" x2="216.3" y2="188.84" stroke="#18addb" stroke-width="0.85" stroke-linecap="round"/>
<polygon points="186.21,184.01 206.76,183.02 194.14,174.06 173.59,178.84" fill="#fff" stroke="none"/>
<line x1="186.21" y1="184.01" x2="206.76" y2="183.02" stroke="#02bac3" stroke-width="0.85" stroke-linecap="round"/>
<line x1="206.76" y1="183.02" x2="194.14" y2="174.06" stroke="#12b1d6" stroke-width="0.85" stroke-linecap="round"/>
<line x1="194.14" y1="174.06" x2="173.59" y2="178.84" stroke="#01b8ca" stroke-width="0.85" stroke-linecap="round"/>
<line x1="173.59" y1="178.84" x2="186.21" y2="184.01" stroke="#0bbdbd" stroke-width="0.85" stroke-linecap="round"/>
<polygon points="133.23,184 143.5,180.34 133.96,174.52 123.68,178.18" fill="#fff" stroke="none"/>
<line x1="133.23" y1="184" x2="143.5" y2="180.34" stroke="#02bac3" stroke-width="0.85" stroke-linecap="round"/>
<line x1="143.5" y1="180.34" x2="133.96" y2="174.52" stroke="#02bac3" stroke-width="0.85" stroke-linecap="round"/>
<line x1="133.96" y1="174.52" x2="123.68" y2="178.18" stroke="#02bac3" stroke-width="0.85" stroke-linecap="round"/>
<line x1="123.68" y1="178.18" x2="133.23" y2="184" stroke="#02bac3" stroke-width="0.85" stroke-linecap="round"/>
<polygon points="105.19,184.76 113.41,181.84 100.79,174.78 92.57,177.7" fill="#fff" stroke="none"/>
<line x1="105.19" y1="184.76" x2="113.41" y2="181.84" stroke="#02bac3" stroke-width="0.85" stroke-linecap="round"/>
<line x1="113.41" y1="181.84" x2="100.79" y2="174.78" stroke="#02bac3" stroke-width="0.85" stroke-linecap="round"/>
<line x1="100.79" y1="174.78" x2="92.57" y2="177.7" stroke="#02bac3" stroke-width="0.85" stroke-linecap="round"/>
<line x1="92.57" y1="177.7" x2="105.19" y2="184.76" stroke="#02bac3" stroke-width="0.85" stroke-linecap="round"/>
<polygon points="153.04,186.16 173.59,178.84 164.05,173.02 143.5,180.34" fill="#fff" stroke="none"/>
<line x1="153.04" y1="186.16" x2="173.59" y2="178.84" stroke="#02bac3" stroke-width="0.85" stroke-linecap="round"/>
<line x1="173.59" y1="178.84" x2="164.05" y2="173.02" stroke="#02bac3" stroke-width="0.85" stroke-linecap="round"/>
<line x1="164.05" y1="173.02" x2="143.5" y2="180.34" stroke="#02bac3" stroke-width="0.85" stroke-linecap="round"/>
<line x1="143.5" y1="180.34" x2="153.04" y2="186.16" stroke="#02bac3" stroke-width="0.85" stroke-linecap="round"/>
<polygon points="80.24,171.97 81.48,172.17 71.93,170.14 70.7,169.95" fill="#fff" stroke="none"/>
<line x1="80.24" y1="171.97" x2="81.48" y2="172.17" stroke="#57cc7a" stroke-width="0.85" stroke-linecap="round"/>
<line x1="81.48" y1="172.17" x2="71.93" y2="170.14" stroke="#3fca8e" stroke-width="0.85" stroke-linecap="round"/>
<line x1="71.93" y1="170.14" x2="70.7" y2="169.95" stroke="#37c897" stroke-width="0.85" stroke-linecap="round"/>
<line x1="70.7" y1="169.95" x2="80.24" y2="171.97" stroke="#4acb84" stroke-width="0.85" stroke-linecap="round"/>
<polygon points="243.15,213 253.43,210.6 246.39,202.52 236.12,202.38" fill="#fff" stroke="none"/>
<line x1="243.15" y1="213" x2="253.43" y2="210.6" stroke="#484df0" stroke-width="0.85" stroke-linecap="round"/>
<line x1="253.43" y1="210.6" x2="246.39" y2="202.52" stroke="#4852f4" stroke-width="0.85" stroke-linecap="round"/>
<line x1="246.39" y1="202.52" x2="236.12" y2="202.38" stroke="#4269fe" stroke-width="0.85" stroke-linecap="round"/>
<line x1="236.12" y1="202.38" x2="243.15" y2="213" stroke="#4563fd" stroke-width="0.85" stroke-linecap="round"/>
<polygon points="122.95,187.66 133.23,184 123.68,178.18 113.41,181.84" fill="#fff" stroke="none"/>
<line x1="122.95" y1="187.66" x2="133.23" y2="184" stroke="#02bac3" stroke-width="0.85" stroke-linecap="round"/>
<line x1="133.23" y1="184" x2="123.68" y2="178.18" stroke="#02bac3" stroke-width="0.85" stroke-linecap="round"/>
<line x1="123.68" y1="178.18" x2="113.41" y2="181.84" stroke="#02bac3" stroke-width="0.85" stroke-linecap="round"/>
<line x1="113.41" y1="181.84" x2="122.95" y2="187.66" stroke="#02bac3" stroke-width="0.85" stroke-linecap="round"/>
<polygon points="225.84,195.92 236.12,202.38 226.57,190.24 216.3,188.84" fill="#fff" stroke="none"/>
<line x1="225.84" y1="195.92" x2="236.12" y2="202.38" stroke="#2b91ef" stroke-width="0.85" stroke-linecap="round"/>
<line x1="236.12" y1="202.38" x2="226.57" y2="190.24" stroke="#2e87f7" stroke-width="0.85" stroke-linecap="round"/>
<line x1="226.57" y1="190.24" x2="216.3" y2="188.84" stroke="#20a5e3" stroke-width="0.85" stroke-linecap="round"/>
<line x1="216.3" y1="188.84" x2="225.84" y2="195.92" stroke="#18addb" stroke-width="0.85" stroke-linecap="round"/>
<polygon points="94.09,168.47 105.19,184.76 92.57,177.7 81.48,172.17" fill="#fff" stroke="none"/>
<line x1="94.09" y1="168.47" x2="105.19" y2="184.76" stroke="#64cd6f" stroke-width="0.85" stroke-linecap="round"/>
<line x1="105.19" y1="184.76" x2="92.57" y2="177.7" stroke="#02bac3" stroke-width="0.85" stroke-linecap="round"/>
<line x1="92.57" y1="177.7" x2="81.48" y2="172.17" stroke="#2cc4a7" stroke-width="0.85" stroke-linecap="round"/>
<line x1="81.48" y1="172.17" x2="94.09" y2="168.47" stroke="#abc739" stroke-width="0.85" stroke-linecap="round"/>
<polygon points="142.77,189.19 153.04,186.16 143.5,180.34 133.23,184" fill="#fff" stroke="none"/>
<line x1="142.77" y1="189.19" x2="153.04" y2="186.16" stroke="#0bbdbd" stroke-width="0.85" stroke-linecap="round"/>
<line x1="153.04" y1="186.16" x2="143.5" y2="180.34" stroke="#02bac3" stroke-width="0.85" stroke-linecap="round"/>
<line x1="143.5" y1="180.34" x2="133.23" y2="184" stroke="#02bac3" stroke-width="0.85" stroke-linecap="round"/>
<line x1="133.23" y1="184" x2="142.77" y2="189.19" stroke="#0bbdbd" stroke-width="0.85" stroke-linecap="round"/>
<polygon points="195.75,189.83 216.3,188.84 206.76,183.02 186.21,184.01" fill="#fff" stroke="none"/>
<line x1="195.75" y1="189.83" x2="216.3" y2="188.84" stroke="#02bac3" stroke-width="0.85" stroke-linecap="round"/>
<line x1="216.3" y1="188.84" x2="206.76" y2="183.02" stroke="#18addb" stroke-width="0.85" stroke-linecap="round"/>
<line x1="206.76" y1="183.02" x2="186.21" y2="184.01" stroke="#02bac3" stroke-width="0.85" stroke-linecap="round"/>
<line x1="186.21" y1="184.01" x2="195.75" y2="189.83" stroke="#24c1ae" stroke-width="0.85" stroke-linecap="round"/>
<polygon points="114.73,189.32 122.95,187.66 113.41,181.84 105.19,184.76" fill="#fff" stroke="none"/>
<line x1="114.73" y1="189.32" x2="122.95" y2="187.66" stroke="#0bbdbd" stroke-width="0.85" stroke-linecap="round"/>
<line x1="122.95" y1="187.66" x2="113.41" y2="181.84" stroke="#02bac3" stroke-width="0.85" stroke-linecap="round"/>
<line x1="113.41" y1="181.84" x2="105.19" y2="184.76" stroke="#02bac3" stroke-width="0.85" stroke-linecap="round"/>
<line x1="105.19" y1="184.76" x2="114.73" y2="189.32" stroke="#0bbdbd" stroke-width="0.85" stroke-linecap="round"/>
<polygon points="232.88,214.12 243.15,213 236.12,202.38 225.84,195.92" fill="#fff" stroke="none"/>
<line x1="232.88" y1="214.12" x2="243.15" y2="213" stroke="#4758f8" stroke-width="0.85" stroke-linecap="round"/>
<line x1="243.15" y1="213" x2="236.12" y2="202.38" stroke="#4563fd" stroke-width="0.85" stroke-linecap="round"/>
<line x1="236.12" y1="202.38" x2="225.84" y2="195.92" stroke="#2b91ef" stroke-width="0.85" stroke-linecap="round"/>
<line x1="225.84" y1="195.92" x2="232.88" y2="214.12" stroke="#2e87f7" stroke-width="0.85" stroke-linecap="round"/>
<polygon points="165.66,186.26 186.21,184.01 173.59,178.84 153.04,186.16" fill="#fff" stroke="none"/>
<line x1="165.66" y1="186.26" x2="186.21" y2="184.01" stroke="#31c69f" stroke-width="0.85" stroke-linecap="round"/>
<line x1="186.21" y1="184.01" x2="173.59" y2="178.84" stroke="#0bbdbd" stroke-width="0.85" stroke-linecap="round"/>
<line x1="173.59" y1="178.84" x2="153.04" y2="186.16" stroke="#02bac3" stroke-width="0.85" stroke-linecap="round"/>
<line x1="153.04" y1="186.16" x2="165.66" y2="186.26" stroke="#2cc4a7" stroke-width="0.85" stroke-linecap="round"/>
<polygon points="132.49,192.21 142.77,189.19 133.23,184 122.95,187.66" fill="#fff" stroke="none"/>
<line x1="132.49" y1="192.21" x2="142.77" y2="189.19" stroke="#0bbdbd" stroke-width="0.85" stroke-linecap="round"/>
<line x1="142.77" y1="189.19" x2="133.23" y2="184" stroke="#0bbdbd" stroke-width="0.85" stroke-linecap="round"/>
<line x1="133.23" y1="184" x2="122.95" y2="187.66" stroke="#02bac3" stroke-width="0.85" stroke-linecap="round"/>
<line x1="122.95" y1="187.66" x2="132.49" y2="192.21" stroke="#0bbdbd" stroke-width="0.85" stroke-linecap="round"/>
<polygon points="92.86,167.77 94.09,168.47 81.48,172.17 80.24,171.97" fill="#fff" stroke="none"/>
<line x1="92.86" y1="167.77" x2="94.09" y2="168.47" stroke="#f0ba36" stroke-width="0.85" stroke-linecap="round"/>
<line x1="94.09" y1="168.47" x2="81.48" y2="172.17" stroke="#abc739" stroke-width="0.85" stroke-linecap="round"/>
<line x1="81.48" y1="172.17" x2="80.24" y2="171.97" stroke="#57cc7a" stroke-width="0.85" stroke-linecap="round"/>
<line x1="80.24" y1="171.97" x2="92.86" y2="167.77" stroke="#b9c431" stroke-width="0.85" stroke-linecap="round"/>
<polygon points="205.29,196.91 225.84,195.92 216.3,188.84 195.75,189.83" fill="#fff" stroke="none"/>
<line x1="205.29" y1="196.91" x2="225.84" y2="195.92" stroke="#08b5d0" stroke-width="0.85" stroke-linecap="round"/>
<line x1="225.84" y1="195.92" x2="216.3" y2="188.84" stroke="#18addb" stroke-width="0.85" stroke-linecap="round"/>
<line x1="216.3" y1="188.84" x2="195.75" y2="189.83" stroke="#02bac3" stroke-width="0.85" stroke-linecap="round"/>
<line x1="195.75" y1="189.83" x2="205.29" y2="196.91" stroke="#19bfb6" stroke-width="0.85" stroke-linecap="round"/>
<polygon points="124.27,193.87 132.49,192.21 122.95,187.66 114.73,189.32" fill="#fff" stroke="none"/>
<line x1="124.27" y1="193.87" x2="132.49" y2="192.21" stroke="#19bfb6" stroke-width="0.85" stroke-linecap="round"/>
<line x1="132.49" y1="192.21" x2="122.95" y2="187.66" stroke="#0bbdbd" stroke-width="0.85" stroke-linecap="round"/>
<line x1="122.95" y1="187.66" x2="114.73" y2="189.32" stroke="#0bbdbd" stroke-width="0.85" stroke-linecap="round"/>
<line x1="114.73" y1="189.32" x2="124.27" y2="193.87" stroke="#19bfb6" stroke-width="0.85" stroke-linecap="round"/>
<polygon points="103.63,167.97 114.73,189.32 105.19,184.76 94.09,168.47" fill="#fff" stroke="none"/>
<line x1="103.63" y1="167.97" x2="114.73" y2="189.32" stroke="#9dc943" stroke-width="0.85" stroke-linecap="round"/>
<line x1="114.73" y1="189.32" x2="105.19" y2="184.76" stroke="#0bbdbd" stroke-width="0.85" stroke-linecap="round"/>
<line x1="105.19" y1="184.76" x2="94.09" y2="168.47" stroke="#64cd6f" stroke-width="0.85" stroke-linecap="round"/>
<line x1="94.09" y1="168.47" x2="103.63" y2="167.97" stroke="#fec338" stroke-width="0.85" stroke-linecap="round"/>
<polygon points="155.38,187.39 165.66,186.26 153.04,186.16 142.77,189.19" fill="#fff" stroke="none"/>
<line x1="155.38" y1="187.39" x2="165.66" y2="186.26" stroke="#57cc7a" stroke-width="0.85" stroke-linecap="round"/>
<line x1="165.66" y1="186.26" x2="153.04" y2="186.16" stroke="#2cc4a7" stroke-width="0.85" stroke-linecap="round"/>
<line x1="153.04" y1="186.16" x2="142.77" y2="189.19" stroke="#0bbdbd" stroke-width="0.85" stroke-linecap="round"/>
<line x1="142.77" y1="189.19" x2="155.38" y2="187.39" stroke="#37c897" stroke-width="0.85" stroke-linecap="round"/>
<polygon points="212.33,212.59 232.88,214.12 225.84,195.92 205.29,196.91" fill="#fff" stroke="none"/>
<line x1="212.33" y1="212.59" x2="232.88" y2="214.12" stroke="#3875fe" stroke-width="0.85" stroke-linecap="round"/>
<line x1="232.88" y1="214.12" x2="225.84" y2="195.92" stroke="#2e87f7" stroke-width="0.85" stroke-linecap="round"/>
<line x1="225.84" y1="195.92" x2="205.29" y2="196.91" stroke="#08b5d0" stroke-width="0.85" stroke-linecap="round"/>
<line x1="205.29" y1="196.91" x2="212.33" y2="212.59" stroke="#18addb" stroke-width="0.85" stroke-linecap="round"/>
<polygon points="175.2,187.02 195.75,189.83 186.21,184.01 165.66,186.26" fill="#fff" stroke="none"/>
<line x1="175.2" y1="187.02" x2="195.75" y2="189.83" stroke="#4acb84" stroke-width="0.85" stroke-linecap="round"/>
<line x1="195.75" y1="189.83" x2="186.21" y2="184.01" stroke="#24c1ae" stroke-width="0.85" stroke-linecap="round"/>
<line x1="186.21" y1="184.01" x2="165.66" y2="186.26" stroke="#31c69f" stroke-width="0.85" stroke-linecap="round"/>
<line x1="165.66" y1="186.26" x2="175.2" y2="187.02" stroke="#64cd6f" stroke-width="0.85" stroke-linecap="round"/>
<polygon points="145.11,188.52 155.38,187.39 142.77,189.19 132.49,192.21" fill="#fff" stroke="none"/>
<line x1="145.11" y1="188.52" x2="155.38" y2="187.39" stroke="#81cc59" stroke-width="0.85" stroke-linecap="round"/>
<line x1="155.38" y1="187.39" x2="142.77" y2="189.19" stroke="#37c897" stroke-width="0.85" stroke-linecap="round"/>
<line x1="142.77" y1="189.19" x2="132.49" y2="192.21" stroke="#0bbdbd" stroke-width="0.85" stroke-linecap="round"/>
<line x1="132.49" y1="192.21" x2="145.11" y2="188.52" stroke="#3fca8e" stroke-width="0.85" stroke-linecap="round"/>
<polygon points="102.4,167.65 103.63,167.97 94.09,168.47 92.86,167.77" fill="#fff" stroke="none"/>
<line x1="102.4" y1="167.65" x2="103.63" y2="167.97" stroke="#fad62d" stroke-width="0.85" stroke-linecap="round"/>
<line x1="103.63" y1="167.97" x2="94.09" y2="168.47" stroke="#fec338" stroke-width="0.85" stroke-linecap="round"/>
<line x1="94.09" y1="168.47" x2="92.86" y2="167.77" stroke="#f0ba36" stroke-width="0.85" stroke-linecap="round"/>
<line x1="92.86" y1="167.77" x2="102.4" y2="167.65" stroke="#fec934" stroke-width="0.85" stroke-linecap="round"/>
<polygon points="113.18,171.26 124.27,193.87 114.73,189.32 103.63,167.97" fill="#fff" stroke="none"/>
<line x1="113.18" y1="171.26" x2="124.27" y2="193.87" stroke="#b9c431" stroke-width="0.85" stroke-linecap="round"/>
<line x1="124.27" y1="193.87" x2="114.73" y2="189.32" stroke="#19bfb6" stroke-width="0.85" stroke-linecap="round"/>
<line x1="114.73" y1="189.32" x2="103.63" y2="167.97" stroke="#9dc943" stroke-width="0.85" stroke-linecap="round"/>
<line x1="103.63" y1="167.97" x2="113.18" y2="171.26" stroke="#f7dc2a" stroke-width="0.85" stroke-linecap="round"/>
<polygon points="136.89,188.92 145.11,188.52 132.49,192.21 124.27,193.87" fill="#fff" stroke="none"/>
<line x1="136.89" y1="188.92" x2="145.11" y2="188.52" stroke="#9dc943" stroke-width="0.85" stroke-linecap="round"/>
<line x1="145.11" y1="188.52" x2="132.49" y2="192.21" stroke="#3fca8e" stroke-width="0.85" stroke-linecap="round"/>
<line x1="132.49" y1="192.21" x2="124.27" y2="193.87" stroke="#19bfb6" stroke-width="0.85" stroke-linecap="round"/>
<line x1="124.27" y1="193.87" x2="136.89" y2="188.92" stroke="#57cc7a" stroke-width="0.85" stroke-linecap="round"/>
<polygon points="184.74,191.58 205.29,196.91 195.75,189.83 175.2,187.02" fill="#fff" stroke="none"/>
<line x1="184.74" y1="191.58" x2="205.29" y2="196.91" stroke="#4acb84" stroke-width="0.85" stroke-linecap="round"/>
<line x1="205.29" y1="196.91" x2="195.75" y2="189.83" stroke="#19bfb6" stroke-width="0.85" stroke-linecap="round"/>
<line x1="195.75" y1="189.83" x2="175.2" y2="187.02" stroke="#4acb84" stroke-width="0.85" stroke-linecap="round"/>
<line x1="175.2" y1="187.02" x2="184.74" y2="191.58" stroke="#9dc943" stroke-width="0.85" stroke-linecap="round"/>
<polygon points="164.93,186.89 175.2,187.02 165.66,186.26 155.38,187.39" fill="#fff" stroke="none"/>
<line x1="164.93" y1="186.89" x2="175.2" y2="187.02" stroke="#abc739" stroke-width="0.85" stroke-linecap="round"/>
<line x1="175.2" y1="187.02" x2="165.66" y2="186.26" stroke="#64cd6f" stroke-width="0.85" stroke-linecap="round"/>
<line x1="165.66" y1="186.26" x2="155.38" y2="187.39" stroke="#57cc7a" stroke-width="0.85" stroke-linecap="round"/>
<line x1="155.38" y1="187.39" x2="164.93" y2="186.89" stroke="#9dc943" stroke-width="0.85" stroke-linecap="round"/>
<polygon points="191.78,195.87 212.33,212.59 205.29,196.91 184.74,191.58" fill="#fff" stroke="none"/>
<line x1="191.78" y1="195.87" x2="212.33" y2="212.59" stroke="#19bfb6" stroke-width="0.85" stroke-linecap="round"/>
<line x1="212.33" y1="212.59" x2="205.29" y2="196.91" stroke="#18addb" stroke-width="0.85" stroke-linecap="round"/>
<line x1="205.29" y1="196.91" x2="184.74" y2="191.58" stroke="#4acb84" stroke-width="0.85" stroke-linecap="round"/>
<line x1="184.74" y1="191.58" x2="191.78" y2="195.87" stroke="#9dc943" stroke-width="0.85" stroke-linecap="round"/>
<polygon points="111.94,171.07 113.18,171.26 103.63,167.97 102.4,167.65" fill="#fff" stroke="none"/>
<line x1="111.94" y1="171.07" x2="113.18" y2="171.26" stroke="#f5e924" stroke-width="0.85" stroke-linecap="round"/>
<line x1="113.18" y1="171.26" x2="103.63" y2="167.97" stroke="#f7dc2a" stroke-width="0.85" stroke-linecap="round"/>
<line x1="103.63" y1="167.97" x2="102.4" y2="167.65" stroke="#fad62d" stroke-width="0.85" stroke-linecap="round"/>
<line x1="102.4" y1="167.65" x2="111.94" y2="171.07" stroke="#f5e327" stroke-width="0.85" stroke-linecap="round"/>
<polygon points="154.65,185.49 164.93,186.89 155.38,187.39 145.11,188.52" fill="#fff" stroke="none"/>
<line x1="154.65" y1="185.49" x2="164.93" y2="186.89" stroke="#dcbd29" stroke-width="0.85" stroke-linecap="round"/>
<line x1="164.93" y1="186.89" x2="155.38" y2="187.39" stroke="#9dc943" stroke-width="0.85" stroke-linecap="round"/>
<line x1="155.38" y1="187.39" x2="145.11" y2="188.52" stroke="#81cc59" stroke-width="0.85" stroke-linecap="round"/>
<line x1="145.11" y1="188.52" x2="154.65" y2="185.49" stroke="#c5c22a" stroke-width="0.85" stroke-linecap="round"/>
<polygon points="125.79,176.42 136.89,188.92 124.27,193.87 113.18,171.26" fill="#fff" stroke="none"/>
<line x1="125.79" y1="176.42" x2="136.89" y2="188.92" stroke="#fec338" stroke-width="0.85" stroke-linecap="round"/>
<line x1="136.89" y1="188.92" x2="124.27" y2="193.87" stroke="#57cc7a" stroke-width="0.85" stroke-linecap="round"/>
<line x1="124.27" y1="193.87" x2="113.18" y2="171.26" stroke="#b9c431" stroke-width="0.85" stroke-linecap="round"/>
<line x1="113.18" y1="171.26" x2="125.79" y2="176.42" stroke="#f6ef20" stroke-width="0.85" stroke-linecap="round"/>
<polygon points="174.47,191.44 184.74,191.58 175.2,187.02 164.93,186.89" fill="#fff" stroke="none"/>
<line x1="174.47" y1="191.44" x2="184.74" y2="191.58" stroke="#b9c431" stroke-width="0.85" stroke-linecap="round"/>
<line x1="184.74" y1="191.58" x2="175.2" y2="187.02" stroke="#9dc943" stroke-width="0.85" stroke-linecap="round"/>
<line x1="175.2" y1="187.02" x2="164.93" y2="186.89" stroke="#abc739" stroke-width="0.85" stroke-linecap="round"/>
<line x1="164.93" y1="186.89" x2="174.47" y2="191.44" stroke="#c5c22a" stroke-width="0.85" stroke-linecap="round"/>
<polygon points="146.43,183.35 154.65,185.49 145.11,188.52 136.89,188.92" fill="#fff" stroke="none"/>
<line x1="146.43" y1="183.35" x2="154.65" y2="185.49" stroke="#fec934" stroke-width="0.85" stroke-linecap="round"/>
<line x1="154.65" y1="185.49" x2="145.11" y2="188.52" stroke="#c5c22a" stroke-width="0.85" stroke-linecap="round"/>
<line x1="145.11" y1="188.52" x2="136.89" y2="188.92" stroke="#9dc943" stroke-width="0.85" stroke-linecap="round"/>
<line x1="136.89" y1="188.92" x2="146.43" y2="183.35" stroke="#f0ba36" stroke-width="0.85" stroke-linecap="round"/>
<polygon points="124.56,176.86 125.79,176.42 113.18,171.26 111.94,171.07" fill="#fff" stroke="none"/>
<line x1="124.56" y1="176.86" x2="125.79" y2="176.42" stroke="#f7f51b" stroke-width="0.85" stroke-linecap="round"/>
<line x1="125.79" y1="176.42" x2="113.18" y2="171.26" stroke="#f6ef20" stroke-width="0.85" stroke-linecap="round"/>
<line x1="113.18" y1="171.26" x2="111.94" y2="171.07" stroke="#f5e924" stroke-width="0.85" stroke-linecap="round"/>
<line x1="111.94" y1="171.07" x2="124.56" y2="176.86" stroke="#f6ef20" stroke-width="0.85" stroke-linecap="round"/>
<polygon points="164.19,190.04 174.47,191.44 164.93,186.89 154.65,185.49" fill="#fff" stroke="none"/>
<line x1="164.19" y1="190.04" x2="174.47" y2="191.44" stroke="#f0ba36" stroke-width="0.85" stroke-linecap="round"/>
<line x1="174.47" y1="191.44" x2="164.93" y2="186.89" stroke="#c5c22a" stroke-width="0.85" stroke-linecap="round"/>
<line x1="164.93" y1="186.89" x2="154.65" y2="185.49" stroke="#dcbd29" stroke-width="0.85" stroke-linecap="round"/>
<line x1="154.65" y1="185.49" x2="164.19" y2="190.04" stroke="#febe3c" stroke-width="0.85" stroke-linecap="round"/>
<polygon points="181.5,198.26 191.78,195.87 184.74,191.58 174.47,191.44" fill="#fff" stroke="none"/>
<line x1="181.5" y1="198.26" x2="191.78" y2="195.87" stroke="#abc739" stroke-width="0.85" stroke-linecap="round"/>
<line x1="191.78" y1="195.87" x2="184.74" y2="191.58" stroke="#9dc943" stroke-width="0.85" stroke-linecap="round"/>
<line x1="184.74" y1="191.58" x2="174.47" y2="191.44" stroke="#b9c431" stroke-width="0.85" stroke-linecap="round"/>
<line x1="174.47" y1="191.44" x2="181.5" y2="198.26" stroke="#c5c22a" stroke-width="0.85" stroke-linecap="round"/>
<polygon points="135.33,180.98 146.43,183.35 136.89,188.92 125.79,176.42" fill="#fff" stroke="none"/>
<line x1="135.33" y1="180.98" x2="146.43" y2="183.35" stroke="#f5e924" stroke-width="0.85" stroke-linecap="round"/>
<line x1="146.43" y1="183.35" x2="136.89" y2="188.92" stroke="#f0ba36" stroke-width="0.85" stroke-linecap="round"/>
<line x1="136.89" y1="188.92" x2="125.79" y2="176.42" stroke="#fec338" stroke-width="0.85" stroke-linecap="round"/>
<line x1="125.79" y1="176.42" x2="135.33" y2="180.98" stroke="#f9fb15" stroke-width="0.85" stroke-linecap="round"/>
<polygon points="155.97,187.91 164.19,190.04 154.65,185.49 146.43,183.35" fill="#fff" stroke="none"/>
<line x1="155.97" y1="187.91" x2="164.19" y2="190.04" stroke="#fccf30" stroke-width="0.85" stroke-linecap="round"/>
<line x1="164.19" y1="190.04" x2="154.65" y2="185.49" stroke="#febe3c" stroke-width="0.85" stroke-linecap="round"/>
<line x1="154.65" y1="185.49" x2="146.43" y2="183.35" stroke="#fec934" stroke-width="0.85" stroke-linecap="round"/>
<line x1="146.43" y1="183.35" x2="155.97" y2="187.91" stroke="#f7dc2a" stroke-width="0.85" stroke-linecap="round"/>
<polygon points="171.23,198.12 181.5,198.26 174.47,191.44 164.19,190.04" fill="#fff" stroke="none"/>
<line x1="171.23" y1="198.12" x2="181.5" y2="198.26" stroke="#c5c22a" stroke-width="0.85" stroke-linecap="round"/>
<line x1="181.5" y1="198.26" x2="174.47" y2="191.44" stroke="#c5c22a" stroke-width="0.85" stroke-linecap="round"/>
<line x1="174.47" y1="191.44" x2="164.19" y2="190.04" stroke="#f0ba36" stroke-width="0.85" stroke-linecap="round"/>
<line x1="164.19" y1="190.04" x2="171.23" y2="198.12" stroke="#f0ba36" stroke-width="0.85" stroke-linecap="round"/>
<polygon points="134.1,181.42 135.33,180.98 125.79,176.42 124.56,176.86" fill="#fff" stroke="none"/>
<line x1="134.1" y1="181.42" x2="135.33" y2="180.98" stroke="#f9fb15" stroke-width="0.85" stroke-linecap="round"/>
<line x1="135.33" y1="180.98" x2="125.79" y2="176.42" stroke="#f9fb15" stroke-width="0.85" stroke-linecap="round"/>
<line x1="125.79" y1="176.42" x2="124.56" y2="176.86" stroke="#f7f51b" stroke-width="0.85" stroke-linecap="round"/>
<line x1="124.56" y1="176.86" x2="134.1" y2="181.42" stroke="#f9fb15" stroke-width="0.85" stroke-linecap="round"/>
<polygon points="163.01,197.26 171.23,198.12 164.19,190.04 155.97,187.91" fill="#fff" stroke="none"/>
<line x1="163.01" y1="197.26" x2="171.23" y2="198.12" stroke="#f0ba36" stroke-width="0.85" stroke-linecap="round"/>
<line x1="171.23" y1="198.12" x2="164.19" y2="190.04" stroke="#f0ba36" stroke-width="0.85" stroke-linecap="round"/>
<line x1="164.19" y1="190.04" x2="155.97" y2="187.91" stroke="#fccf30" stroke-width="0.85" stroke-linecap="round"/>
<line x1="155.97" y1="187.91" x2="163.01" y2="197.26" stroke="#fccf30" stroke-width="0.85" stroke-linecap="round"/>
<polygon points="144.88,189.33 155.97,187.91 146.43,183.35 135.33,180.98" fill="#fff" stroke="none"/>
<line x1="144.88" y1="189.33" x2="155.97" y2="187.91" stroke="#f5e924" stroke-width="0.85" stroke-linecap="round"/>
<line x1="155.97" y1="187.91" x2="146.43" y2="183.35" stroke="#f7dc2a" stroke-width="0.85" stroke-linecap="round"/>
<line x1="146.43" y1="183.35" x2="135.33" y2="180.98" stroke="#f5e924" stroke-width="0.85" stroke-linecap="round"/>
<line x1="135.33" y1="180.98" x2="144.88" y2="189.33" stroke="#f7f51b" stroke-width="0.85" stroke-linecap="round"/>
<polygon points="143.64,189.77 144.88,189.33 135.33,180.98 134.1,181.42" fill="#fff" stroke="none"/>
<line x1="143.64" y1="189.77" x2="144.88" y2="189.33" stroke="#f6ef20" stroke-width="0.85" stroke-linecap="round"/>
<line x1="144.88" y1="189.33" x2="135.33" y2="180.98" stroke="#f7f51b" stroke-width="0.85" stroke-linecap="round"/>
<line x1="135.33" y1="180.98" x2="134.1" y2="181.42" stroke="#f9fb15" stroke-width="0.85" stroke-linecap="round"/>
<line x1="134.1" y1="181.42" x2="143.64" y2="189.77" stroke="#f7f51b" stroke-width="0.85" stroke-linecap="round"/>
<polygon points="151.91,200.32 163.01,197.26 155.97,187.91 144.88,189.33" fill="#fff" stroke="none"/>
<line x1="151.91" y1="200.32" x2="163.01" y2="197.26" stroke="#fec338" stroke-width="0.85" stroke-linecap="round"/>
<line x1="163.01" y1="197.26" x2="155.97" y2="187.91" stroke="#fccf30" stroke-width="0.85" stroke-linecap="round"/>
<line x1="155.97" y1="187.91" x2="144.88" y2="189.33" stroke="#f5e924" stroke-width="0.85" stroke-linecap="round"/>
<line x1="144.88" y1="189.33" x2="151.91" y2="200.32" stroke="#f7dc2a" stroke-width="0.85" stroke-linecap="round"/>
<polygon points="150.68,200.76 151.91,200.32 144.88,189.33 143.64,189.77" fill="#fff" stroke="none"/>
<line x1="150.68" y1="200.76" x2="151.91" y2="200.32" stroke="#fec338" stroke-width="0.85" stroke-linecap="round"/>
<line x1="151.91" y1="200.32" x2="144.88" y2="189.33" stroke="#f7dc2a" stroke-width="0.85" stroke-linecap="round"/>
<line x1="144.88" y1="189.33" x2="143.64" y2="189.77" stroke="#f6ef20" stroke-width="0.85" stroke-linecap="round"/>
<line x1="143.64" y1="189.77" x2="150.68" y2="200.76" stroke="#f7dc2a" stroke-width="0.85" stroke-linecap="round"/>
<text transform="translate(62.65,81.3) scale(0.95,1)" font-size="16.6" text-anchor="end">100%</text>
<text transform="translate(62.65,144.6) scale(0.95,1)" font-size="16.6" text-anchor="end">50%</text>
<text transform="translate(62.65,195.2) scale(0.95,1)" font-size="16.6" text-anchor="end">10%</text>
<text transform="translate(11.9,160.7) rotate(-90) scale(1.1,1)" font-size="16.4">Loss</text>
<text x="39.14" y="229.6" font-size="16.6">10</text>
<text x="55.1" y="221.7" font-size="13">3</text>
<text x="71.14" y="248.9" font-size="16.6">10</text>
<text x="87" y="240.4" font-size="13">2</text>
<text x="134.14" y="286.9" font-size="16.6">10</text>
<text x="150.4" y="279.2" font-size="13">0</text>
<text x="82.3" y="290.8" font-size="19.2" font-style="italic">C</text>
<text transform="translate(173.4,283.6) scale(0.95,1)" font-size="16.6">0</text>
<text transform="translate(235,261.7) scale(0.95,1)" font-size="16.6">0.5</text>
<text transform="translate(297.1,239.5) scale(0.95,1)" font-size="16.6">1</text>
<text x="239.8" y="289.7" font-size="16.5" font-style="italic">p</text>
<text x="80.96" y="77.3" font-size="20" font-style="italic">b</text>
<text x="90.06" y="80.6" font-size="13">1</text>
<rect x="105.1" y="70.6" width="13.3" height="1.15" fill="#111"/><rect x="105.1" y="74.55" width="13.3" height="1.15" fill="#111"/>
<text x="125.9" y="77.2" font-size="18.3">2</text>
<text x="135" y="77.2" font-size="20">,</text>
<text x="144.86" y="77.3" font-size="20" font-style="italic">b</text>
<text x="154.2" y="80.6" font-size="13">2</text>
<rect x="168.6" y="70.6" width="13.3" height="1.15" fill="#111"/><rect x="168.6" y="74.55" width="13.3" height="1.15" fill="#111"/>
<text x="189.34" y="77.2" font-size="18.3">1</text>
<text x="199.2" y="77.2" font-size="20">,</text>
<text x="209.1" y="77.3" font-size="20" font-style="italic">d</text>
<text x="219.06" y="80.6" font-size="13">1</text>
<rect x="233.8" y="70.6" width="13.3" height="1.15" fill="#111"/><rect x="233.8" y="74.55" width="13.3" height="1.15" fill="#111"/>
<text x="254.5" y="77.2" font-size="18.3">1</text>
<text x="9.6" y="21.6" font-size="32" font-weight="bold">a</text>
<line x1="497.41" y1="258.18" x2="620.71" y2="214.28" stroke="#e4e4e4" stroke-width="0.55"/>
<line x1="491.83" y1="254.78" x2="615.13" y2="210.88" stroke="#e4e4e4" stroke-width="0.55"/>
<line x1="487.86" y1="252.36" x2="611.16" y2="208.46" stroke="#e4e4e4" stroke-width="0.55"/>
<line x1="484.79" y1="250.49" x2="608.09" y2="206.59" stroke="#e4e4e4" stroke-width="0.55"/>
<line x1="482.28" y1="248.96" x2="605.58" y2="205.06" stroke="#e4e4e4" stroke-width="0.55"/>
<line x1="480.16" y1="247.66" x2="603.46" y2="203.76" stroke="#e4e4e4" stroke-width="0.55"/>
<line x1="478.32" y1="246.54" x2="601.62" y2="202.64" stroke="#e4e4e4" stroke-width="0.55"/>
<line x1="476.7" y1="245.55" x2="600" y2="201.65" stroke="#e4e4e4" stroke-width="0.55"/>
<line x1="465.71" y1="238.85" x2="589.01" y2="194.95" stroke="#e4e4e4" stroke-width="0.55"/>
<line x1="460.13" y1="235.44" x2="583.43" y2="191.54" stroke="#e4e4e4" stroke-width="0.55"/>
<line x1="456.16" y1="233.03" x2="579.46" y2="189.13" stroke="#e4e4e4" stroke-width="0.55"/>
<line x1="453.09" y1="231.15" x2="576.39" y2="187.25" stroke="#e4e4e4" stroke-width="0.55"/>
<line x1="450.58" y1="229.62" x2="573.88" y2="185.72" stroke="#e4e4e4" stroke-width="0.55"/>
<line x1="448.46" y1="228.33" x2="571.76" y2="184.43" stroke="#e4e4e4" stroke-width="0.55"/>
<line x1="446.62" y1="227.21" x2="569.92" y2="183.31" stroke="#e4e4e4" stroke-width="0.55"/>
<line x1="445" y1="226.22" x2="568.3" y2="182.32" stroke="#e4e4e4" stroke-width="0.55"/>
<line x1="434.01" y1="219.51" x2="557.31" y2="175.61" stroke="#e4e4e4" stroke-width="0.55"/>
<line x1="428.43" y1="216.11" x2="551.73" y2="172.21" stroke="#e4e4e4" stroke-width="0.55"/>
<line x1="424.46" y1="213.69" x2="547.76" y2="169.79" stroke="#e4e4e4" stroke-width="0.55"/>
<line x1="421.39" y1="211.82" x2="544.69" y2="167.92" stroke="#e4e4e4" stroke-width="0.55"/>
<line x1="418.88" y1="210.29" x2="542.18" y2="166.39" stroke="#e4e4e4" stroke-width="0.55"/>
<line x1="416.76" y1="208.99" x2="540.06" y2="165.09" stroke="#e4e4e4" stroke-width="0.55"/>
<line x1="414.92" y1="207.87" x2="538.22" y2="163.97" stroke="#e4e4e4" stroke-width="0.55"/>
<line x1="413.3" y1="206.88" x2="536.6" y2="162.98" stroke="#e4e4e4" stroke-width="0.55"/>
<line x1="506.95" y1="264" x2="630.25" y2="220.1" stroke="#d4d4d4" stroke-width="0.6"/>
<line x1="475.25" y1="244.67" x2="598.55" y2="200.77" stroke="#d4d4d4" stroke-width="0.6"/>
<line x1="443.55" y1="225.33" x2="566.85" y2="181.43" stroke="#d4d4d4" stroke-width="0.6"/>
<line x1="411.85" y1="206" x2="535.15" y2="162.1" stroke="#d4d4d4" stroke-width="0.6"/>
<line x1="506.95" y1="264" x2="411.85" y2="206" stroke="#d4d4d4" stroke-width="0.6"/>
<line x1="568.6" y1="242.05" x2="473.5" y2="184.05" stroke="#d4d4d4" stroke-width="0.6"/>
<line x1="630.25" y1="220.1" x2="535.15" y2="162.1" stroke="#d4d4d4" stroke-width="0.6"/>
<line x1="620.71" y1="214.28" x2="620.71" y2="87.78" stroke="#e4e4e4" stroke-width="0.55"/>
<line x1="615.13" y1="210.88" x2="615.13" y2="84.38" stroke="#e4e4e4" stroke-width="0.55"/>
<line x1="611.16" y1="208.46" x2="611.16" y2="81.96" stroke="#e4e4e4" stroke-width="0.55"/>
<line x1="608.09" y1="206.59" x2="608.09" y2="80.09" stroke="#e4e4e4" stroke-width="0.55"/>
<line x1="605.58" y1="205.06" x2="605.58" y2="78.56" stroke="#e4e4e4" stroke-width="0.55"/>
<line x1="603.46" y1="203.76" x2="603.46" y2="77.26" stroke="#e4e4e4" stroke-width="0.55"/>
<line x1="601.62" y1="202.64" x2="601.62" y2="76.14" stroke="#e4e4e4" stroke-width="0.55"/>
<line x1="600" y1="201.65" x2="600" y2="75.15" stroke="#e4e4e4" stroke-width="0.55"/>
<line x1="589.01" y1="194.95" x2="589.01" y2="68.45" stroke="#e4e4e4" stroke-width="0.55"/>
<line x1="583.43" y1="191.54" x2="583.43" y2="65.04" stroke="#e4e4e4" stroke-width="0.55"/>
<line x1="579.46" y1="189.13" x2="579.46" y2="62.63" stroke="#e4e4e4" stroke-width="0.55"/>
<line x1="576.39" y1="187.25" x2="576.39" y2="60.75" stroke="#e4e4e4" stroke-width="0.55"/>
<line x1="573.88" y1="185.72" x2="573.88" y2="59.22" stroke="#e4e4e4" stroke-width="0.55"/>
<line x1="571.76" y1="184.43" x2="571.76" y2="57.93" stroke="#e4e4e4" stroke-width="0.55"/>
<line x1="569.92" y1="183.31" x2="569.92" y2="56.81" stroke="#e4e4e4" stroke-width="0.55"/>
<line x1="568.3" y1="182.32" x2="568.3" y2="55.82" stroke="#e4e4e4" stroke-width="0.55"/>
<line x1="557.31" y1="175.61" x2="557.31" y2="49.11" stroke="#e4e4e4" stroke-width="0.55"/>
<line x1="551.73" y1="172.21" x2="551.73" y2="45.71" stroke="#e4e4e4" stroke-width="0.55"/>
<line x1="547.76" y1="169.79" x2="547.76" y2="43.29" stroke="#e4e4e4" stroke-width="0.55"/>
<line x1="544.69" y1="167.92" x2="544.69" y2="41.42" stroke="#e4e4e4" stroke-width="0.55"/>
<line x1="542.18" y1="166.39" x2="542.18" y2="39.89" stroke="#e4e4e4" stroke-width="0.55"/>
<line x1="540.06" y1="165.09" x2="540.06" y2="38.59" stroke="#e4e4e4" stroke-width="0.55"/>
<line x1="538.22" y1="163.97" x2="538.22" y2="37.47" stroke="#e4e4e4" stroke-width="0.55"/>
<line x1="536.6" y1="162.98" x2="536.6" y2="36.48" stroke="#e4e4e4" stroke-width="0.55"/>
<line x1="630.25" y1="220.1" x2="630.25" y2="93.6" stroke="#d4d4d4" stroke-width="0.6"/>
<line x1="598.55" y1="200.77" x2="598.55" y2="74.27" stroke="#d4d4d4" stroke-width="0.6"/>
<line x1="566.85" y1="181.43" x2="566.85" y2="54.93" stroke="#d4d4d4" stroke-width="0.6"/>
<line x1="535.15" y1="162.1" x2="535.15" y2="35.6" stroke="#d4d4d4" stroke-width="0.6"/>
<line x1="630.25" y1="207.45" x2="535.15" y2="149.45" stroke="#d4d4d4" stroke-width="0.6"/>
<line x1="630.25" y1="156.85" x2="535.15" y2="98.85" stroke="#d4d4d4" stroke-width="0.6"/>
<line x1="630.25" y1="93.6" x2="535.15" y2="35.6" stroke="#d4d4d4" stroke-width="0.6"/>
<line x1="411.85" y1="206" x2="411.85" y2="79.5" stroke="#d4d4d4" stroke-width="0.6"/>
<line x1="473.5" y1="184.05" x2="473.5" y2="57.55" stroke="#d4d4d4" stroke-width="0.6"/>
<line x1="535.15" y1="162.1" x2="535.15" y2="35.6" stroke="#d4d4d4" stroke-width="0.6"/>
<line x1="411.85" y1="193.35" x2="535.15" y2="149.45" stroke="#d4d4d4" stroke-width="0.6"/>
<line x1="411.85" y1="142.75" x2="535.15" y2="98.85" stroke="#d4d4d4" stroke-width="0.6"/>
<line x1="411.85" y1="79.5" x2="535.15" y2="35.6" stroke="#d4d4d4" stroke-width="0.6"/>
<line x1="411.85" y1="206" x2="411.85" y2="79.5" stroke="#3a3a3a" stroke-width="1.0"/>
<line x1="506.95" y1="264" x2="411.85" y2="206" stroke="#3a3a3a" stroke-width="1.0"/>
<line x1="506.95" y1="264" x2="630.25" y2="220.1" stroke="#3a3a3a" stroke-width="1.0"/>
<line x1="411.85" y1="193.35" x2="409.45" y2="194.2" stroke="#3a3a3a" stroke-width="0.8"/>
<line x1="411.85" y1="142.75" x2="409.45" y2="143.6" stroke="#3a3a3a" stroke-width="0.8"/>
<line x1="411.85" y1="79.5" x2="409.45" y2="80.35" stroke="#3a3a3a" stroke-width="0.8"/>
<line x1="506.95" y1="264" x2="504.12" y2="265" stroke="#3a3a3a" stroke-width="0.8"/>
<line x1="497.41" y1="258.18" x2="495.33" y2="258.92" stroke="#3a3a3a" stroke-width="0.8"/>
<line x1="491.83" y1="254.78" x2="489.75" y2="255.51" stroke="#3a3a3a" stroke-width="0.8"/>
<line x1="487.86" y1="252.36" x2="485.79" y2="253.1" stroke="#3a3a3a" stroke-width="0.8"/>
<line x1="484.79" y1="250.49" x2="482.72" y2="251.22" stroke="#3a3a3a" stroke-width="0.8"/>
<line x1="482.28" y1="248.96" x2="480.21" y2="249.69" stroke="#3a3a3a" stroke-width="0.8"/>
<line x1="480.16" y1="247.66" x2="478.09" y2="248.4" stroke="#3a3a3a" stroke-width="0.8"/>
<line x1="478.32" y1="246.54" x2="476.25" y2="247.28" stroke="#3a3a3a" stroke-width="0.8"/>
<line x1="476.7" y1="245.55" x2="474.63" y2="246.29" stroke="#3a3a3a" stroke-width="0.8"/>
<line x1="475.25" y1="244.67" x2="472.42" y2="245.67" stroke="#3a3a3a" stroke-width="0.8"/>
<line x1="465.71" y1="238.85" x2="463.63" y2="239.58" stroke="#3a3a3a" stroke-width="0.8"/>
<line x1="460.13" y1="235.44" x2="458.05" y2="236.18" stroke="#3a3a3a" stroke-width="0.8"/>
<line x1="456.16" y1="233.03" x2="454.09" y2="233.76" stroke="#3a3a3a" stroke-width="0.8"/>
<line x1="453.09" y1="231.15" x2="451.02" y2="231.89" stroke="#3a3a3a" stroke-width="0.8"/>
<line x1="450.58" y1="229.62" x2="448.51" y2="230.36" stroke="#3a3a3a" stroke-width="0.8"/>
<line x1="448.46" y1="228.33" x2="446.39" y2="229.07" stroke="#3a3a3a" stroke-width="0.8"/>
<line x1="446.62" y1="227.21" x2="444.55" y2="227.94" stroke="#3a3a3a" stroke-width="0.8"/>
<line x1="445" y1="226.22" x2="442.93" y2="226.95" stroke="#3a3a3a" stroke-width="0.8"/>
<line x1="443.55" y1="225.33" x2="440.72" y2="226.34" stroke="#3a3a3a" stroke-width="0.8"/>
<line x1="434.01" y1="219.51" x2="431.93" y2="220.25" stroke="#3a3a3a" stroke-width="0.8"/>
<line x1="428.43" y1="216.11" x2="426.35" y2="216.85" stroke="#3a3a3a" stroke-width="0.8"/>
<line x1="424.46" y1="213.69" x2="422.39" y2="214.43" stroke="#3a3a3a" stroke-width="0.8"/>
<line x1="421.39" y1="211.82" x2="419.32" y2="212.56" stroke="#3a3a3a" stroke-width="0.8"/>
<line x1="418.88" y1="210.29" x2="416.81" y2="211.03" stroke="#3a3a3a" stroke-width="0.8"/>
<line x1="416.76" y1="208.99" x2="414.69" y2="209.73" stroke="#3a3a3a" stroke-width="0.8"/>
<line x1="414.92" y1="207.87" x2="412.85" y2="208.61" stroke="#3a3a3a" stroke-width="0.8"/>
<line x1="413.3" y1="206.88" x2="411.23" y2="207.62" stroke="#3a3a3a" stroke-width="0.8"/>
<line x1="411.85" y1="206" x2="409.12" y2="206.97" stroke="#3a3a3a" stroke-width="0.7"/>
<line x1="506.95" y1="264" x2="509.45" y2="265.52" stroke="#3a3a3a" stroke-width="0.8"/>
<line x1="568.6" y1="242.05" x2="571.1" y2="243.57" stroke="#3a3a3a" stroke-width="0.8"/>
<line x1="630.25" y1="220.1" x2="632.75" y2="221.62" stroke="#3a3a3a" stroke-width="0.8"/>
<polygon points="524.64,86.43 532.86,75.28 523.32,64.28 515.1,74.54" fill="#fff" stroke="none"/>
<line x1="524.64" y1="86.43" x2="532.86" y2="75.28" stroke="#d1bf27" stroke-width="0.85" stroke-linecap="round"/>
<line x1="532.86" y1="75.28" x2="523.32" y2="64.28" stroke="#f8ba3d" stroke-width="0.85" stroke-linecap="round"/>
<line x1="523.32" y1="64.28" x2="515.1" y2="74.54" stroke="#f0ba36" stroke-width="0.85" stroke-linecap="round"/>
<line x1="515.1" y1="74.54" x2="524.64" y2="86.43" stroke="#d1bf27" stroke-width="0.85" stroke-linecap="round"/>
<polygon points="532.86,75.28 543.96,51.85 534.42,43.25 523.32,64.28" fill="#fff" stroke="none"/>
<line x1="532.86" y1="75.28" x2="543.96" y2="51.85" stroke="#fec934" stroke-width="0.85" stroke-linecap="round"/>
<line x1="543.96" y1="51.85" x2="534.42" y2="43.25" stroke="#f6ef20" stroke-width="0.85" stroke-linecap="round"/>
<line x1="534.42" y1="43.25" x2="523.32" y2="64.28" stroke="#fad62d" stroke-width="0.85" stroke-linecap="round"/>
<line x1="523.32" y1="64.28" x2="532.86" y2="75.28" stroke="#f8ba3d" stroke-width="0.85" stroke-linecap="round"/>
<polygon points="514.37,102.99 524.64,86.43 515.1,74.54 504.82,85.54" fill="#fff" stroke="none"/>
<line x1="514.37" y1="102.99" x2="524.64" y2="86.43" stroke="#8fcb4e" stroke-width="0.85" stroke-linecap="round"/>
<line x1="524.64" y1="86.43" x2="515.1" y2="74.54" stroke="#d1bf27" stroke-width="0.85" stroke-linecap="round"/>
<line x1="515.1" y1="74.54" x2="504.82" y2="85.54" stroke="#c5c22a" stroke-width="0.85" stroke-linecap="round"/>
<line x1="504.82" y1="85.54" x2="514.37" y2="102.99" stroke="#81cc59" stroke-width="0.85" stroke-linecap="round"/>
<polygon points="543.96,51.85 545.19,47.74 535.65,39.77 534.42,43.25" fill="#fff" stroke="none"/>
<line x1="543.96" y1="51.85" x2="545.19" y2="47.74" stroke="#f6ef20" stroke-width="0.85" stroke-linecap="round"/>
<line x1="545.19" y1="47.74" x2="535.65" y2="39.77" stroke="#f9fb15" stroke-width="0.85" stroke-linecap="round"/>
<line x1="535.65" y1="39.77" x2="534.42" y2="43.25" stroke="#f9fb15" stroke-width="0.85" stroke-linecap="round"/>
<line x1="534.42" y1="43.25" x2="543.96" y2="51.85" stroke="#f6ef20" stroke-width="0.85" stroke-linecap="round"/>
<polygon points="504.09,114.24 514.37,102.99 504.82,85.54 494.55,95.39" fill="#fff" stroke="none"/>
<line x1="504.09" y1="114.24" x2="514.37" y2="102.99" stroke="#3fca8e" stroke-width="0.85" stroke-linecap="round"/>
<line x1="514.37" y1="102.99" x2="504.82" y2="85.54" stroke="#81cc59" stroke-width="0.85" stroke-linecap="round"/>
<line x1="504.82" y1="85.54" x2="494.55" y2="95.39" stroke="#9dc943" stroke-width="0.85" stroke-linecap="round"/>
<line x1="494.55" y1="95.39" x2="504.09" y2="114.24" stroke="#57cc7a" stroke-width="0.85" stroke-linecap="round"/>
<polygon points="537.26,110.32 545.48,95.63 532.86,75.28 524.64,86.43" fill="#fff" stroke="none"/>
<line x1="537.26" y1="110.32" x2="545.48" y2="95.63" stroke="#72cd64" stroke-width="0.85" stroke-linecap="round"/>
<line x1="545.48" y1="95.63" x2="532.86" y2="75.28" stroke="#c5c22a" stroke-width="0.85" stroke-linecap="round"/>
<line x1="532.86" y1="75.28" x2="524.64" y2="86.43" stroke="#d1bf27" stroke-width="0.85" stroke-linecap="round"/>
<line x1="524.64" y1="86.43" x2="537.26" y2="110.32" stroke="#81cc59" stroke-width="0.85" stroke-linecap="round"/>
<polygon points="526.98,127.51 537.26,110.32 524.64,86.43 514.37,102.99" fill="#fff" stroke="none"/>
<line x1="526.98" y1="127.51" x2="537.26" y2="110.32" stroke="#2cc4a7" stroke-width="0.85" stroke-linecap="round"/>
<line x1="537.26" y1="110.32" x2="524.64" y2="86.43" stroke="#81cc59" stroke-width="0.85" stroke-linecap="round"/>
<line x1="524.64" y1="86.43" x2="514.37" y2="102.99" stroke="#8fcb4e" stroke-width="0.85" stroke-linecap="round"/>
<line x1="514.37" y1="102.99" x2="526.98" y2="127.51" stroke="#31c69f" stroke-width="0.85" stroke-linecap="round"/>
<polygon points="516.71,141.67 526.98,127.51 514.37,102.99 504.09,114.24" fill="#fff" stroke="none"/>
<line x1="516.71" y1="141.67" x2="526.98" y2="127.51" stroke="#08b5d0" stroke-width="0.85" stroke-linecap="round"/>
<line x1="526.98" y1="127.51" x2="514.37" y2="102.99" stroke="#31c69f" stroke-width="0.85" stroke-linecap="round"/>
<line x1="514.37" y1="102.99" x2="504.09" y2="114.24" stroke="#3fca8e" stroke-width="0.85" stroke-linecap="round"/>
<line x1="504.09" y1="114.24" x2="516.71" y2="141.67" stroke="#02bac3" stroke-width="0.85" stroke-linecap="round"/>
<polygon points="483.54,132.19 504.09,114.24 494.55,95.39 474,112.58" fill="#fff" stroke="none"/>
<line x1="483.54" y1="132.19" x2="504.09" y2="114.24" stroke="#19bfb6" stroke-width="0.85" stroke-linecap="round"/>
<line x1="504.09" y1="114.24" x2="494.55" y2="95.39" stroke="#57cc7a" stroke-width="0.85" stroke-linecap="round"/>
<line x1="494.55" y1="95.39" x2="474" y2="112.58" stroke="#57cc7a" stroke-width="0.85" stroke-linecap="round"/>
<line x1="474" y1="112.58" x2="483.54" y2="132.19" stroke="#24c1ae" stroke-width="0.85" stroke-linecap="round"/>
<polygon points="545.48,95.63 556.57,63.72 543.96,51.85 532.86,75.28" fill="#fff" stroke="none"/>
<line x1="545.48" y1="95.63" x2="556.57" y2="63.72" stroke="#f0ba36" stroke-width="0.85" stroke-linecap="round"/>
<line x1="556.57" y1="63.72" x2="543.96" y2="51.85" stroke="#f5e327" stroke-width="0.85" stroke-linecap="round"/>
<line x1="543.96" y1="51.85" x2="532.86" y2="75.28" stroke="#fec934" stroke-width="0.85" stroke-linecap="round"/>
<line x1="532.86" y1="75.28" x2="545.48" y2="95.63" stroke="#c5c22a" stroke-width="0.85" stroke-linecap="round"/>
<polygon points="536.52,146.74 546.8,128.54 537.26,110.32 526.98,127.51" fill="#fff" stroke="none"/>
<line x1="536.52" y1="146.74" x2="546.8" y2="128.54" stroke="#12b1d6" stroke-width="0.85" stroke-linecap="round"/>
<line x1="546.8" y1="128.54" x2="537.26" y2="110.32" stroke="#2cc4a7" stroke-width="0.85" stroke-linecap="round"/>
<line x1="537.26" y1="110.32" x2="526.98" y2="127.51" stroke="#2cc4a7" stroke-width="0.85" stroke-linecap="round"/>
<line x1="526.98" y1="127.51" x2="536.52" y2="146.74" stroke="#12b1d6" stroke-width="0.85" stroke-linecap="round"/>
<polygon points="556.57,63.72 557.81,59.99 545.19,47.74 543.96,51.85" fill="#fff" stroke="none"/>
<line x1="556.57" y1="63.72" x2="557.81" y2="59.99" stroke="#f5e327" stroke-width="0.85" stroke-linecap="round"/>
<line x1="557.81" y1="59.99" x2="545.19" y2="47.74" stroke="#f6ef20" stroke-width="0.85" stroke-linecap="round"/>
<line x1="545.19" y1="47.74" x2="543.96" y2="51.85" stroke="#f6ef20" stroke-width="0.85" stroke-linecap="round"/>
<line x1="543.96" y1="51.85" x2="556.57" y2="63.72" stroke="#f5e327" stroke-width="0.85" stroke-linecap="round"/>
<polygon points="526.25,162.16 536.52,146.74 526.98,127.51 516.71,141.67" fill="#fff" stroke="none"/>
<line x1="526.25" y1="162.16" x2="536.52" y2="146.74" stroke="#2b91ef" stroke-width="0.85" stroke-linecap="round"/>
<line x1="536.52" y1="146.74" x2="526.98" y2="127.51" stroke="#12b1d6" stroke-width="0.85" stroke-linecap="round"/>
<line x1="526.98" y1="127.51" x2="516.71" y2="141.67" stroke="#08b5d0" stroke-width="0.85" stroke-linecap="round"/>
<line x1="516.71" y1="141.67" x2="526.25" y2="162.16" stroke="#2797eb" stroke-width="0.85" stroke-linecap="round"/>
<polygon points="496.16,162.65 516.71,141.67 504.09,114.24 483.54,132.19" fill="#fff" stroke="none"/>
<line x1="496.16" y1="162.65" x2="516.71" y2="141.67" stroke="#2797eb" stroke-width="0.85" stroke-linecap="round"/>
<line x1="516.71" y1="141.67" x2="504.09" y2="114.24" stroke="#02bac3" stroke-width="0.85" stroke-linecap="round"/>
<line x1="504.09" y1="114.24" x2="483.54" y2="132.19" stroke="#19bfb6" stroke-width="0.85" stroke-linecap="round"/>
<line x1="483.54" y1="132.19" x2="496.16" y2="162.65" stroke="#20a5e3" stroke-width="0.85" stroke-linecap="round"/>
<polygon points="546.8,128.54 555.02,111.19 545.48,95.63 537.26,110.32" fill="#fff" stroke="none"/>
<line x1="546.8" y1="128.54" x2="555.02" y2="111.19" stroke="#31c69f" stroke-width="0.85" stroke-linecap="round"/>
<line x1="555.02" y1="111.19" x2="545.48" y2="95.63" stroke="#72cd64" stroke-width="0.85" stroke-linecap="round"/>
<line x1="545.48" y1="95.63" x2="537.26" y2="110.32" stroke="#72cd64" stroke-width="0.85" stroke-linecap="round"/>
<line x1="537.26" y1="110.32" x2="546.8" y2="128.54" stroke="#2cc4a7" stroke-width="0.85" stroke-linecap="round"/>
<polygon points="535.79,181.9 546.07,167.11 536.52,146.74 526.25,162.16" fill="#fff" stroke="none"/>
<line x1="535.79" y1="181.9" x2="546.07" y2="167.11" stroke="#4269fe" stroke-width="0.85" stroke-linecap="round"/>
<line x1="546.07" y1="167.11" x2="536.52" y2="146.74" stroke="#2b91ef" stroke-width="0.85" stroke-linecap="round"/>
<line x1="536.52" y1="146.74" x2="526.25" y2="162.16" stroke="#2b91ef" stroke-width="0.85" stroke-linecap="round"/>
<line x1="526.25" y1="162.16" x2="535.79" y2="181.9" stroke="#3e6fff" stroke-width="0.85" stroke-linecap="round"/>
<polygon points="546.07,167.11 556.34,147.76 546.8,128.54 536.52,146.74" fill="#fff" stroke="none"/>
<line x1="546.07" y1="167.11" x2="556.34" y2="147.76" stroke="#2b91ef" stroke-width="0.85" stroke-linecap="round"/>
<line x1="556.34" y1="147.76" x2="546.8" y2="128.54" stroke="#12b1d6" stroke-width="0.85" stroke-linecap="round"/>
<line x1="546.8" y1="128.54" x2="536.52" y2="146.74" stroke="#12b1d6" stroke-width="0.85" stroke-linecap="round"/>
<line x1="536.52" y1="146.74" x2="546.07" y2="167.11" stroke="#2b91ef" stroke-width="0.85" stroke-linecap="round"/>
<polygon points="505.7,184.53 526.25,162.16 516.71,141.67 496.16,162.65" fill="#fff" stroke="none"/>
<line x1="505.7" y1="184.53" x2="526.25" y2="162.16" stroke="#4269fe" stroke-width="0.85" stroke-linecap="round"/>
<line x1="526.25" y1="162.16" x2="516.71" y2="141.67" stroke="#2797eb" stroke-width="0.85" stroke-linecap="round"/>
<line x1="516.71" y1="141.67" x2="496.16" y2="162.65" stroke="#2797eb" stroke-width="0.85" stroke-linecap="round"/>
<line x1="496.16" y1="162.65" x2="505.7" y2="184.53" stroke="#3e6fff" stroke-width="0.85" stroke-linecap="round"/>
<polygon points="556.34,147.76 564.56,129.53 555.02,111.19 546.8,128.54" fill="#fff" stroke="none"/>
<line x1="556.34" y1="147.76" x2="564.56" y2="129.53" stroke="#08b5d0" stroke-width="0.85" stroke-linecap="round"/>
<line x1="564.56" y1="129.53" x2="555.02" y2="111.19" stroke="#31c69f" stroke-width="0.85" stroke-linecap="round"/>
<line x1="555.02" y1="111.19" x2="546.8" y2="128.54" stroke="#31c69f" stroke-width="0.85" stroke-linecap="round"/>
<line x1="546.8" y1="128.54" x2="556.34" y2="147.76" stroke="#12b1d6" stroke-width="0.85" stroke-linecap="round"/>
<polygon points="555.02,111.19 566.12,75.61 556.57,63.72 545.48,95.63" fill="#fff" stroke="none"/>
<line x1="555.02" y1="111.19" x2="566.12" y2="75.61" stroke="#c5c22a" stroke-width="0.85" stroke-linecap="round"/>
<line x1="566.12" y1="75.61" x2="556.57" y2="63.72" stroke="#fad62d" stroke-width="0.85" stroke-linecap="round"/>
<line x1="556.57" y1="63.72" x2="545.48" y2="95.63" stroke="#f0ba36" stroke-width="0.85" stroke-linecap="round"/>
<line x1="545.48" y1="95.63" x2="555.02" y2="111.19" stroke="#72cd64" stroke-width="0.85" stroke-linecap="round"/>
<polygon points="462.99,147.47 483.54,132.19 474,112.58 453.45,128.12" fill="#fff" stroke="none"/>
<line x1="462.99" y1="147.47" x2="483.54" y2="132.19" stroke="#08b5d0" stroke-width="0.85" stroke-linecap="round"/>
<line x1="483.54" y1="132.19" x2="474" y2="112.58" stroke="#24c1ae" stroke-width="0.85" stroke-linecap="round"/>
<line x1="474" y1="112.58" x2="453.45" y2="128.12" stroke="#31c69f" stroke-width="0.85" stroke-linecap="round"/>
<line x1="453.45" y1="128.12" x2="462.99" y2="147.47" stroke="#01b8ca" stroke-width="0.85" stroke-linecap="round"/>
<polygon points="558.68,194.92 568.96,178.35 556.34,147.76 546.07,167.11" fill="#fff" stroke="none"/>
<line x1="558.68" y1="194.92" x2="568.96" y2="178.35" stroke="#4852f4" stroke-width="0.85" stroke-linecap="round"/>
<line x1="568.96" y1="178.35" x2="556.34" y2="147.76" stroke="#2e87f7" stroke-width="0.85" stroke-linecap="round"/>
<line x1="556.34" y1="147.76" x2="546.07" y2="167.11" stroke="#2b91ef" stroke-width="0.85" stroke-linecap="round"/>
<line x1="546.07" y1="167.11" x2="558.68" y2="194.92" stroke="#465efb" stroke-width="0.85" stroke-linecap="round"/>
<polygon points="515.24,203.26 535.79,181.9 526.25,162.16 505.7,184.53" fill="#fff" stroke="none"/>
<line x1="515.24" y1="203.26" x2="535.79" y2="181.9" stroke="#4741e5" stroke-width="0.85" stroke-linecap="round"/>
<line x1="535.79" y1="181.9" x2="526.25" y2="162.16" stroke="#3e6fff" stroke-width="0.85" stroke-linecap="round"/>
<line x1="526.25" y1="162.16" x2="505.7" y2="184.53" stroke="#4269fe" stroke-width="0.85" stroke-linecap="round"/>
<line x1="505.7" y1="184.53" x2="515.24" y2="203.26" stroke="#4741e5" stroke-width="0.85" stroke-linecap="round"/>
<polygon points="548.41,209.07 558.68,194.92 546.07,167.11 535.79,181.9" fill="#fff" stroke="none"/>
<line x1="548.41" y1="209.07" x2="558.68" y2="194.92" stroke="#4332cb" stroke-width="0.85" stroke-linecap="round"/>
<line x1="558.68" y1="194.92" x2="546.07" y2="167.11" stroke="#465efb" stroke-width="0.85" stroke-linecap="round"/>
<line x1="546.07" y1="167.11" x2="535.79" y2="181.9" stroke="#4269fe" stroke-width="0.85" stroke-linecap="round"/>
<line x1="535.79" y1="181.9" x2="548.41" y2="209.07" stroke="#463cde" stroke-width="0.85" stroke-linecap="round"/>
<polygon points="568.96,178.35 577.18,161.26 564.56,129.53 556.34,147.76" fill="#fff" stroke="none"/>
<line x1="568.96" y1="178.35" x2="577.18" y2="161.26" stroke="#327cfc" stroke-width="0.85" stroke-linecap="round"/>
<line x1="577.18" y1="161.26" x2="564.56" y2="129.53" stroke="#18addb" stroke-width="0.85" stroke-linecap="round"/>
<line x1="564.56" y1="129.53" x2="556.34" y2="147.76" stroke="#08b5d0" stroke-width="0.85" stroke-linecap="round"/>
<line x1="556.34" y1="147.76" x2="568.96" y2="178.35" stroke="#2e87f7" stroke-width="0.85" stroke-linecap="round"/>
<polygon points="475.61,179.58 496.16,162.65 483.54,132.19 462.99,147.47" fill="#fff" stroke="none"/>
<line x1="475.61" y1="179.58" x2="496.16" y2="162.65" stroke="#3875fe" stroke-width="0.85" stroke-linecap="round"/>
<line x1="496.16" y1="162.65" x2="483.54" y2="132.19" stroke="#20a5e3" stroke-width="0.85" stroke-linecap="round"/>
<line x1="483.54" y1="132.19" x2="462.99" y2="147.47" stroke="#08b5d0" stroke-width="0.85" stroke-linecap="round"/>
<line x1="462.99" y1="147.47" x2="475.61" y2="179.58" stroke="#2d8cf3" stroke-width="0.85" stroke-linecap="round"/>
<polygon points="566.12,75.61 567.35,71.88 557.81,59.99 556.57,63.72" fill="#fff" stroke="none"/>
<line x1="566.12" y1="75.61" x2="567.35" y2="71.88" stroke="#fccf30" stroke-width="0.85" stroke-linecap="round"/>
<line x1="567.35" y1="71.88" x2="557.81" y2="59.99" stroke="#f7dc2a" stroke-width="0.85" stroke-linecap="round"/>
<line x1="557.81" y1="59.99" x2="556.57" y2="63.72" stroke="#f5e327" stroke-width="0.85" stroke-linecap="round"/>
<line x1="556.57" y1="63.72" x2="566.12" y2="75.61" stroke="#fad62d" stroke-width="0.85" stroke-linecap="round"/>
<polygon points="578.5,199.61 586.72,191.24 577.18,161.26 568.96,178.35" fill="#fff" stroke="none"/>
<line x1="578.5" y1="199.61" x2="586.72" y2="191.24" stroke="#463cde" stroke-width="0.85" stroke-linecap="round"/>
<line x1="586.72" y1="191.24" x2="577.18" y2="161.26" stroke="#4269fe" stroke-width="0.85" stroke-linecap="round"/>
<line x1="577.18" y1="161.26" x2="568.96" y2="178.35" stroke="#327cfc" stroke-width="0.85" stroke-linecap="round"/>
<line x1="568.96" y1="178.35" x2="578.5" y2="199.61" stroke="#484df0" stroke-width="0.85" stroke-linecap="round"/>
<polygon points="568.22,211.11 578.5,199.61 568.96,178.35 558.68,194.92" fill="#fff" stroke="none"/>
<line x1="568.22" y1="211.11" x2="578.5" y2="199.61" stroke="#422ec0" stroke-width="0.85" stroke-linecap="round"/>
<line x1="578.5" y1="199.61" x2="568.96" y2="178.35" stroke="#484df0" stroke-width="0.85" stroke-linecap="round"/>
<line x1="568.96" y1="178.35" x2="558.68" y2="194.92" stroke="#4852f4" stroke-width="0.85" stroke-linecap="round"/>
<line x1="558.68" y1="194.92" x2="568.22" y2="211.11" stroke="#4332cb" stroke-width="0.85" stroke-linecap="round"/>
<polygon points="564.56,129.53 575.66,92.82 566.12,75.61 555.02,111.19" fill="#fff" stroke="none"/>
<line x1="564.56" y1="129.53" x2="575.66" y2="92.82" stroke="#72cd64" stroke-width="0.85" stroke-linecap="round"/>
<line x1="575.66" y1="92.82" x2="566.12" y2="75.61" stroke="#f8ba3d" stroke-width="0.85" stroke-linecap="round"/>
<line x1="566.12" y1="75.61" x2="555.02" y2="111.19" stroke="#c5c22a" stroke-width="0.85" stroke-linecap="round"/>
<line x1="555.02" y1="111.19" x2="564.56" y2="129.53" stroke="#31c69f" stroke-width="0.85" stroke-linecap="round"/>
<polygon points="485.15,199.82 505.7,184.53 496.16,162.65 475.61,179.58" fill="#fff" stroke="none"/>
<line x1="485.15" y1="199.82" x2="505.7" y2="184.53" stroke="#4747eb" stroke-width="0.85" stroke-linecap="round"/>
<line x1="505.7" y1="184.53" x2="496.16" y2="162.65" stroke="#3e6fff" stroke-width="0.85" stroke-linecap="round"/>
<line x1="496.16" y1="162.65" x2="475.61" y2="179.58" stroke="#3875fe" stroke-width="0.85" stroke-linecap="round"/>
<line x1="475.61" y1="179.58" x2="485.15" y2="199.82" stroke="#4852f4" stroke-width="0.85" stroke-linecap="round"/>
<polygon points="452.72,155.68 462.99,147.47 453.45,128.12 443.17,135.06" fill="#fff" stroke="none"/>
<line x1="452.72" y1="155.68" x2="462.99" y2="147.47" stroke="#20a5e3" stroke-width="0.85" stroke-linecap="round"/>
<line x1="462.99" y1="147.47" x2="453.45" y2="128.12" stroke="#01b8ca" stroke-width="0.85" stroke-linecap="round"/>
<line x1="453.45" y1="128.12" x2="443.17" y2="135.06" stroke="#19bfb6" stroke-width="0.85" stroke-linecap="round"/>
<line x1="443.17" y1="135.06" x2="452.72" y2="155.68" stroke="#12b1d6" stroke-width="0.85" stroke-linecap="round"/>
<polygon points="527.86,216.14 548.41,209.07 535.79,181.9 515.24,203.26" fill="#fff" stroke="none"/>
<line x1="527.86" y1="216.14" x2="548.41" y2="209.07" stroke="#3e26a8" stroke-width="0.85" stroke-linecap="round"/>
<line x1="548.41" y1="209.07" x2="535.79" y2="181.9" stroke="#463cde" stroke-width="0.85" stroke-linecap="round"/>
<line x1="535.79" y1="181.9" x2="515.24" y2="203.26" stroke="#4741e5" stroke-width="0.85" stroke-linecap="round"/>
<line x1="515.24" y1="203.26" x2="527.86" y2="216.14" stroke="#402ab4" stroke-width="0.85" stroke-linecap="round"/>
<polygon points="557.95,214.14 568.22,211.11 558.68,194.92 548.41,209.07" fill="#fff" stroke="none"/>
<line x1="557.95" y1="214.14" x2="568.22" y2="211.11" stroke="#3e26a8" stroke-width="0.85" stroke-linecap="round"/>
<line x1="568.22" y1="211.11" x2="558.68" y2="194.92" stroke="#4332cb" stroke-width="0.85" stroke-linecap="round"/>
<line x1="558.68" y1="194.92" x2="548.41" y2="209.07" stroke="#4332cb" stroke-width="0.85" stroke-linecap="round"/>
<line x1="548.41" y1="209.07" x2="557.95" y2="214.14" stroke="#3e26a8" stroke-width="0.85" stroke-linecap="round"/>
<polygon points="577.18,161.26 588.27,125.81 575.66,92.82 564.56,129.53" fill="#fff" stroke="none"/>
<line x1="577.18" y1="161.26" x2="588.27" y2="125.81" stroke="#08b5d0" stroke-width="0.85" stroke-linecap="round"/>
<line x1="588.27" y1="125.81" x2="575.66" y2="92.82" stroke="#8fcb4e" stroke-width="0.85" stroke-linecap="round"/>
<line x1="575.66" y1="92.82" x2="564.56" y2="129.53" stroke="#72cd64" stroke-width="0.85" stroke-linecap="round"/>
<line x1="564.56" y1="129.53" x2="577.18" y2="161.26" stroke="#18addb" stroke-width="0.85" stroke-linecap="round"/>
<polygon points="586.72,191.24 597.82,154.65 588.27,125.81 577.18,161.26" fill="#fff" stroke="none"/>
<line x1="586.72" y1="191.24" x2="597.82" y2="154.65" stroke="#3875fe" stroke-width="0.85" stroke-linecap="round"/>
<line x1="597.82" y1="154.65" x2="588.27" y2="125.81" stroke="#02bac3" stroke-width="0.85" stroke-linecap="round"/>
<line x1="588.27" y1="125.81" x2="577.18" y2="161.26" stroke="#08b5d0" stroke-width="0.85" stroke-linecap="round"/>
<line x1="577.18" y1="161.26" x2="586.72" y2="191.24" stroke="#4269fe" stroke-width="0.85" stroke-linecap="round"/>
<polygon points="588.04,213.27 596.26,197.31 586.72,191.24 578.5,199.61" fill="#fff" stroke="none"/>
<line x1="588.04" y1="213.27" x2="596.26" y2="197.31" stroke="#4332cb" stroke-width="0.85" stroke-linecap="round"/>
<line x1="596.26" y1="197.31" x2="586.72" y2="191.24" stroke="#4747eb" stroke-width="0.85" stroke-linecap="round"/>
<line x1="586.72" y1="191.24" x2="578.5" y2="199.61" stroke="#463cde" stroke-width="0.85" stroke-linecap="round"/>
<line x1="578.5" y1="199.61" x2="588.04" y2="213.27" stroke="#422ec0" stroke-width="0.85" stroke-linecap="round"/>
<polygon points="465.33,186.02 475.61,179.58 462.99,147.47 452.72,155.68" fill="#fff" stroke="none"/>
<line x1="465.33" y1="186.02" x2="475.61" y2="179.58" stroke="#4563fd" stroke-width="0.85" stroke-linecap="round"/>
<line x1="475.61" y1="179.58" x2="462.99" y2="147.47" stroke="#2d8cf3" stroke-width="0.85" stroke-linecap="round"/>
<line x1="462.99" y1="147.47" x2="452.72" y2="155.68" stroke="#20a5e3" stroke-width="0.85" stroke-linecap="round"/>
<line x1="452.72" y1="155.68" x2="465.33" y2="186.02" stroke="#2f81fa" stroke-width="0.85" stroke-linecap="round"/>
<polygon points="494.69,211.46 515.24,203.26 505.7,184.53 485.15,199.82" fill="#fff" stroke="none"/>
<line x1="494.69" y1="211.46" x2="515.24" y2="203.26" stroke="#422ec0" stroke-width="0.85" stroke-linecap="round"/>
<line x1="515.24" y1="203.26" x2="505.7" y2="184.53" stroke="#4741e5" stroke-width="0.85" stroke-linecap="round"/>
<line x1="505.7" y1="184.53" x2="485.15" y2="199.82" stroke="#4747eb" stroke-width="0.85" stroke-linecap="round"/>
<line x1="485.15" y1="199.82" x2="494.69" y2="211.46" stroke="#4537d5" stroke-width="0.85" stroke-linecap="round"/>
<polygon points="575.66,92.82 576.89,88.2 567.35,71.88 566.12,75.61" fill="#fff" stroke="none"/>
<line x1="575.66" y1="92.82" x2="576.89" y2="88.2" stroke="#e6bb2d" stroke-width="0.85" stroke-linecap="round"/>
<line x1="576.89" y1="88.2" x2="567.35" y2="71.88" stroke="#fec338" stroke-width="0.85" stroke-linecap="round"/>
<line x1="567.35" y1="71.88" x2="566.12" y2="75.61" stroke="#fccf30" stroke-width="0.85" stroke-linecap="round"/>
<line x1="566.12" y1="75.61" x2="575.66" y2="92.82" stroke="#f8ba3d" stroke-width="0.85" stroke-linecap="round"/>
<polygon points="596.26,197.31 607.36,175.4 597.82,154.65 586.72,191.24" fill="#fff" stroke="none"/>
<line x1="596.26" y1="197.31" x2="607.36" y2="175.4" stroke="#465efb" stroke-width="0.85" stroke-linecap="round"/>
<line x1="607.36" y1="175.4" x2="597.82" y2="154.65" stroke="#2b91ef" stroke-width="0.85" stroke-linecap="round"/>
<line x1="597.82" y1="154.65" x2="586.72" y2="191.24" stroke="#3875fe" stroke-width="0.85" stroke-linecap="round"/>
<line x1="586.72" y1="191.24" x2="596.26" y2="197.31" stroke="#4747eb" stroke-width="0.85" stroke-linecap="round"/>
<polygon points="577.77,216.3 588.04,213.27 578.5,199.61 568.22,211.11" fill="#fff" stroke="none"/>
<line x1="577.77" y1="216.3" x2="588.04" y2="213.27" stroke="#3e26a8" stroke-width="0.85" stroke-linecap="round"/>
<line x1="588.04" y1="213.27" x2="578.5" y2="199.61" stroke="#422ec0" stroke-width="0.85" stroke-linecap="round"/>
<line x1="578.5" y1="199.61" x2="568.22" y2="211.11" stroke="#422ec0" stroke-width="0.85" stroke-linecap="round"/>
<line x1="568.22" y1="211.11" x2="577.77" y2="216.3" stroke="#3e26a8" stroke-width="0.85" stroke-linecap="round"/>
<polygon points="442.44,163.64 452.72,155.68 443.17,135.06 432.9,142.39" fill="#fff" stroke="none"/>
<line x1="442.44" y1="163.64" x2="452.72" y2="155.68" stroke="#259be8" stroke-width="0.85" stroke-linecap="round"/>
<line x1="452.72" y1="155.68" x2="443.17" y2="135.06" stroke="#12b1d6" stroke-width="0.85" stroke-linecap="round"/>
<line x1="443.17" y1="135.06" x2="432.9" y2="142.39" stroke="#02bac3" stroke-width="0.85" stroke-linecap="round"/>
<line x1="432.9" y1="142.39" x2="442.44" y2="163.64" stroke="#1ca9df" stroke-width="0.85" stroke-linecap="round"/>
<polygon points="614.39,207.9 615.63,207.84 608.59,174.46 607.36,175.4" fill="#fff" stroke="none"/>
<line x1="614.39" y1="207.9" x2="615.63" y2="207.84" stroke="#402ab4" stroke-width="0.85" stroke-linecap="round"/>
<line x1="615.63" y1="207.84" x2="608.59" y2="174.46" stroke="#4852f4" stroke-width="0.85" stroke-linecap="round"/>
<line x1="608.59" y1="174.46" x2="607.36" y2="175.4" stroke="#327cfc" stroke-width="0.85" stroke-linecap="round"/>
<line x1="607.36" y1="175.4" x2="614.39" y2="207.9" stroke="#4852f4" stroke-width="0.85" stroke-linecap="round"/>
<polygon points="474.88,207.02 485.15,199.82 475.61,179.58 465.33,186.02" fill="#fff" stroke="none"/>
<line x1="474.88" y1="207.02" x2="485.15" y2="199.82" stroke="#4537d5" stroke-width="0.85" stroke-linecap="round"/>
<line x1="485.15" y1="199.82" x2="475.61" y2="179.58" stroke="#4852f4" stroke-width="0.85" stroke-linecap="round"/>
<line x1="475.61" y1="179.58" x2="465.33" y2="186.02" stroke="#4563fd" stroke-width="0.85" stroke-linecap="round"/>
<line x1="465.33" y1="186.02" x2="474.88" y2="207.02" stroke="#4747eb" stroke-width="0.85" stroke-linecap="round"/>
<polygon points="597.82,154.65 599.05,153.96 589.51,121.7 588.27,125.81" fill="#fff" stroke="none"/>
<line x1="597.82" y1="154.65" x2="599.05" y2="153.96" stroke="#20a5e3" stroke-width="0.85" stroke-linecap="round"/>
<line x1="599.05" y1="153.96" x2="589.51" y2="121.7" stroke="#0bbdbd" stroke-width="0.85" stroke-linecap="round"/>
<line x1="589.51" y1="121.7" x2="588.27" y2="125.81" stroke="#3fca8e" stroke-width="0.85" stroke-linecap="round"/>
<line x1="588.27" y1="125.81" x2="597.82" y2="154.65" stroke="#02bac3" stroke-width="0.85" stroke-linecap="round"/>
<polygon points="603.3,213.87 614.39,207.9 607.36,175.4 596.26,197.31" fill="#fff" stroke="none"/>
<line x1="603.3" y1="213.87" x2="614.39" y2="207.9" stroke="#402ab4" stroke-width="0.85" stroke-linecap="round"/>
<line x1="614.39" y1="207.9" x2="607.36" y2="175.4" stroke="#4852f4" stroke-width="0.85" stroke-linecap="round"/>
<line x1="607.36" y1="175.4" x2="596.26" y2="197.31" stroke="#465efb" stroke-width="0.85" stroke-linecap="round"/>
<line x1="596.26" y1="197.31" x2="603.3" y2="213.87" stroke="#4332cb" stroke-width="0.85" stroke-linecap="round"/>
<polygon points="588.27,125.81 589.51,121.7 576.89,88.2 575.66,92.82" fill="#fff" stroke="none"/>
<line x1="588.27" y1="125.81" x2="589.51" y2="121.7" stroke="#3fca8e" stroke-width="0.85" stroke-linecap="round"/>
<line x1="589.51" y1="121.7" x2="576.89" y2="88.2" stroke="#abc739" stroke-width="0.85" stroke-linecap="round"/>
<line x1="576.89" y1="88.2" x2="575.66" y2="92.82" stroke="#e6bb2d" stroke-width="0.85" stroke-linecap="round"/>
<line x1="575.66" y1="92.82" x2="588.27" y2="125.81" stroke="#8fcb4e" stroke-width="0.85" stroke-linecap="round"/>
<polygon points="607.36,175.4 608.59,174.46 599.05,153.96 597.82,154.65" fill="#fff" stroke="none"/>
<line x1="607.36" y1="175.4" x2="608.59" y2="174.46" stroke="#327cfc" stroke-width="0.85" stroke-linecap="round"/>
<line x1="608.59" y1="174.46" x2="599.05" y2="153.96" stroke="#2b91ef" stroke-width="0.85" stroke-linecap="round"/>
<line x1="599.05" y1="153.96" x2="597.82" y2="154.65" stroke="#20a5e3" stroke-width="0.85" stroke-linecap="round"/>
<line x1="597.82" y1="154.65" x2="607.36" y2="175.4" stroke="#2b91ef" stroke-width="0.85" stroke-linecap="round"/>
<polygon points="421.89,197.9 423.13,196.2 413.58,171.41 412.35,173.11" fill="#fff" stroke="none"/>
<line x1="421.89" y1="197.9" x2="423.13" y2="196.2" stroke="#4747eb" stroke-width="0.85" stroke-linecap="round"/>
<line x1="423.13" y1="196.2" x2="413.58" y2="171.41" stroke="#4563fd" stroke-width="0.85" stroke-linecap="round"/>
<line x1="413.58" y1="171.41" x2="412.35" y2="173.11" stroke="#2f81fa" stroke-width="0.85" stroke-linecap="round"/>
<line x1="412.35" y1="173.11" x2="421.89" y2="197.9" stroke="#4563fd" stroke-width="0.85" stroke-linecap="round"/>
<polygon points="455.06,190.06 465.33,186.02 452.72,155.68 442.44,163.64" fill="#fff" stroke="none"/>
<line x1="455.06" y1="190.06" x2="465.33" y2="186.02" stroke="#465efb" stroke-width="0.85" stroke-linecap="round"/>
<line x1="465.33" y1="186.02" x2="452.72" y2="155.68" stroke="#2f81fa" stroke-width="0.85" stroke-linecap="round"/>
<line x1="452.72" y1="155.68" x2="442.44" y2="163.64" stroke="#259be8" stroke-width="0.85" stroke-linecap="round"/>
<line x1="442.44" y1="163.64" x2="455.06" y2="190.06" stroke="#327cfc" stroke-width="0.85" stroke-linecap="round"/>
<polygon points="434.22,172.01 442.44,163.64 432.9,142.39 424.68,149.75" fill="#fff" stroke="none"/>
<line x1="434.22" y1="172.01" x2="442.44" y2="163.64" stroke="#2d8cf3" stroke-width="0.85" stroke-linecap="round"/>
<line x1="442.44" y1="163.64" x2="432.9" y2="142.39" stroke="#1ca9df" stroke-width="0.85" stroke-linecap="round"/>
<line x1="432.9" y1="142.39" x2="424.68" y2="149.75" stroke="#08b5d0" stroke-width="0.85" stroke-linecap="round"/>
<line x1="424.68" y1="149.75" x2="434.22" y2="172.01" stroke="#259be8" stroke-width="0.85" stroke-linecap="round"/>
<polygon points="423.13,196.2 434.22,172.01 424.68,149.75 413.58,171.41" fill="#fff" stroke="none"/>
<line x1="423.13" y1="196.2" x2="434.22" y2="172.01" stroke="#4269fe" stroke-width="0.85" stroke-linecap="round"/>
<line x1="434.22" y1="172.01" x2="424.68" y2="149.75" stroke="#259be8" stroke-width="0.85" stroke-linecap="round"/>
<line x1="424.68" y1="149.75" x2="413.58" y2="171.41" stroke="#259be8" stroke-width="0.85" stroke-linecap="round"/>
<line x1="413.58" y1="171.41" x2="423.13" y2="196.2" stroke="#4563fd" stroke-width="0.85" stroke-linecap="round"/>
<polygon points="595.08,213.13 603.3,213.87 596.26,197.31 588.04,213.27" fill="#fff" stroke="none"/>
<line x1="595.08" y1="213.13" x2="603.3" y2="213.87" stroke="#402ab4" stroke-width="0.85" stroke-linecap="round"/>
<line x1="603.3" y1="213.87" x2="596.26" y2="197.31" stroke="#4332cb" stroke-width="0.85" stroke-linecap="round"/>
<line x1="596.26" y1="197.31" x2="588.04" y2="213.27" stroke="#4332cb" stroke-width="0.85" stroke-linecap="round"/>
<line x1="588.04" y1="213.27" x2="595.08" y2="213.13" stroke="#402ab4" stroke-width="0.85" stroke-linecap="round"/>
<polygon points="537.4,220.95 557.95,214.14 548.41,209.07 527.86,216.14" fill="#fff" stroke="none"/>
<line x1="537.4" y1="220.95" x2="557.95" y2="214.14" stroke="#3e26a8" stroke-width="0.85" stroke-linecap="round"/>
<line x1="557.95" y1="214.14" x2="548.41" y2="209.07" stroke="#3e26a8" stroke-width="0.85" stroke-linecap="round"/>
<line x1="548.41" y1="209.07" x2="527.86" y2="216.14" stroke="#3e26a8" stroke-width="0.85" stroke-linecap="round"/>
<line x1="527.86" y1="216.14" x2="537.4" y2="220.95" stroke="#3e26a8" stroke-width="0.85" stroke-linecap="round"/>
<polygon points="567.49,221.22 577.77,216.3 568.22,211.11 557.95,214.14" fill="#fff" stroke="none"/>
<line x1="567.49" y1="221.22" x2="577.77" y2="216.3" stroke="#3e26a8" stroke-width="0.85" stroke-linecap="round"/>
<line x1="577.77" y1="216.3" x2="568.22" y2="211.11" stroke="#3e26a8" stroke-width="0.85" stroke-linecap="round"/>
<line x1="568.22" y1="211.11" x2="557.95" y2="214.14" stroke="#3e26a8" stroke-width="0.85" stroke-linecap="round"/>
<line x1="557.95" y1="214.14" x2="567.49" y2="221.22" stroke="#3e26a8" stroke-width="0.85" stroke-linecap="round"/>
<polygon points="484.42,214.49 494.69,211.46 485.15,199.82 474.88,207.02" fill="#fff" stroke="none"/>
<line x1="484.42" y1="214.49" x2="494.69" y2="211.46" stroke="#422ec0" stroke-width="0.85" stroke-linecap="round"/>
<line x1="494.69" y1="211.46" x2="485.15" y2="199.82" stroke="#4537d5" stroke-width="0.85" stroke-linecap="round"/>
<line x1="485.15" y1="199.82" x2="474.88" y2="207.02" stroke="#4537d5" stroke-width="0.85" stroke-linecap="round"/>
<line x1="474.88" y1="207.02" x2="484.42" y2="214.49" stroke="#4332cb" stroke-width="0.85" stroke-linecap="round"/>
<polygon points="464.6,209.16 474.88,207.02 465.33,186.02 455.06,190.06" fill="#fff" stroke="none"/>
<line x1="464.6" y1="209.16" x2="474.88" y2="207.02" stroke="#4537d5" stroke-width="0.85" stroke-linecap="round"/>
<line x1="474.88" y1="207.02" x2="465.33" y2="186.02" stroke="#4747eb" stroke-width="0.85" stroke-linecap="round"/>
<line x1="465.33" y1="186.02" x2="455.06" y2="190.06" stroke="#465efb" stroke-width="0.85" stroke-linecap="round"/>
<line x1="455.06" y1="190.06" x2="464.6" y2="209.16" stroke="#484df0" stroke-width="0.85" stroke-linecap="round"/>
<polygon points="434.51,219.51 435.74,217.81 423.13,196.2 421.89,197.9" fill="#fff" stroke="none"/>
<line x1="434.51" y1="219.51" x2="435.74" y2="217.81" stroke="#3e26a8" stroke-width="0.85" stroke-linecap="round"/>
<line x1="435.74" y1="217.81" x2="423.13" y2="196.2" stroke="#4537d5" stroke-width="0.85" stroke-linecap="round"/>
<line x1="423.13" y1="196.2" x2="421.89" y2="197.9" stroke="#4747eb" stroke-width="0.85" stroke-linecap="round"/>
<line x1="421.89" y1="197.9" x2="434.51" y2="219.51" stroke="#4332cb" stroke-width="0.85" stroke-linecap="round"/>
<polygon points="507.31,221.68 527.86,216.14 515.24,203.26 494.69,211.46" fill="#fff" stroke="none"/>
<line x1="507.31" y1="221.68" x2="527.86" y2="216.14" stroke="#3e26a8" stroke-width="0.85" stroke-linecap="round"/>
<line x1="527.86" y1="216.14" x2="515.24" y2="203.26" stroke="#402ab4" stroke-width="0.85" stroke-linecap="round"/>
<line x1="515.24" y1="203.26" x2="494.69" y2="211.46" stroke="#422ec0" stroke-width="0.85" stroke-linecap="round"/>
<line x1="494.69" y1="211.46" x2="507.31" y2="221.68" stroke="#402ab4" stroke-width="0.85" stroke-linecap="round"/>
<polygon points="446.84,196.15 455.06,190.06 442.44,163.64 434.22,172.01" fill="#fff" stroke="none"/>
<line x1="446.84" y1="196.15" x2="455.06" y2="190.06" stroke="#4758f8" stroke-width="0.85" stroke-linecap="round"/>
<line x1="455.06" y1="190.06" x2="442.44" y2="163.64" stroke="#327cfc" stroke-width="0.85" stroke-linecap="round"/>
<line x1="442.44" y1="163.64" x2="434.22" y2="172.01" stroke="#2d8cf3" stroke-width="0.85" stroke-linecap="round"/>
<line x1="434.22" y1="172.01" x2="446.84" y2="196.15" stroke="#3e6fff" stroke-width="0.85" stroke-linecap="round"/>
<polygon points="435.74,217.81 446.84,196.15 434.22,172.01 423.13,196.2" fill="#fff" stroke="none"/>
<line x1="435.74" y1="217.81" x2="446.84" y2="196.15" stroke="#463cde" stroke-width="0.85" stroke-linecap="round"/>
<line x1="446.84" y1="196.15" x2="434.22" y2="172.01" stroke="#3e6fff" stroke-width="0.85" stroke-linecap="round"/>
<line x1="434.22" y1="172.01" x2="423.13" y2="196.2" stroke="#4269fe" stroke-width="0.85" stroke-linecap="round"/>
<line x1="423.13" y1="196.2" x2="435.74" y2="217.81" stroke="#4537d5" stroke-width="0.85" stroke-linecap="round"/>
<polygon points="584.8,213.88 595.08,213.13 588.04,213.27 577.77,216.3" fill="#fff" stroke="none"/>
<line x1="584.8" y1="213.88" x2="595.08" y2="213.13" stroke="#4332cb" stroke-width="0.85" stroke-linecap="round"/>
<line x1="595.08" y1="213.13" x2="588.04" y2="213.27" stroke="#402ab4" stroke-width="0.85" stroke-linecap="round"/>
<line x1="588.04" y1="213.27" x2="577.77" y2="216.3" stroke="#3e26a8" stroke-width="0.85" stroke-linecap="round"/>
<line x1="577.77" y1="216.3" x2="584.8" y2="213.88" stroke="#422ec0" stroke-width="0.85" stroke-linecap="round"/>
<polygon points="456.38,213.35 464.6,209.16 455.06,190.06 446.84,196.15" fill="#fff" stroke="none"/>
<line x1="456.38" y1="213.35" x2="464.6" y2="209.16" stroke="#4537d5" stroke-width="0.85" stroke-linecap="round"/>
<line x1="464.6" y1="209.16" x2="455.06" y2="190.06" stroke="#484df0" stroke-width="0.85" stroke-linecap="round"/>
<line x1="455.06" y1="190.06" x2="446.84" y2="196.15" stroke="#4758f8" stroke-width="0.85" stroke-linecap="round"/>
<line x1="446.84" y1="196.15" x2="456.38" y2="213.35" stroke="#4741e5" stroke-width="0.85" stroke-linecap="round"/>
<polygon points="474.14,217.51 484.42,214.49 474.88,207.02 464.6,209.16" fill="#fff" stroke="none"/>
<line x1="474.14" y1="217.51" x2="484.42" y2="214.49" stroke="#4332cb" stroke-width="0.85" stroke-linecap="round"/>
<line x1="484.42" y1="214.49" x2="474.88" y2="207.02" stroke="#4332cb" stroke-width="0.85" stroke-linecap="round"/>
<line x1="474.88" y1="207.02" x2="464.6" y2="209.16" stroke="#4537d5" stroke-width="0.85" stroke-linecap="round"/>
<line x1="464.6" y1="209.16" x2="474.14" y2="217.51" stroke="#4332cb" stroke-width="0.85" stroke-linecap="round"/>
<polygon points="546.94,228.54 567.49,221.22 557.95,214.14 537.4,220.95" fill="#fff" stroke="none"/>
<line x1="546.94" y1="228.54" x2="567.49" y2="221.22" stroke="#3e26a8" stroke-width="0.85" stroke-linecap="round"/>
<line x1="567.49" y1="221.22" x2="557.95" y2="214.14" stroke="#3e26a8" stroke-width="0.85" stroke-linecap="round"/>
<line x1="557.95" y1="214.14" x2="537.4" y2="220.95" stroke="#3e26a8" stroke-width="0.85" stroke-linecap="round"/>
<line x1="537.4" y1="220.95" x2="546.94" y2="228.54" stroke="#3e26a8" stroke-width="0.85" stroke-linecap="round"/>
<polygon points="445.28,221.1 456.38,213.35 446.84,196.15 435.74,217.81" fill="#fff" stroke="none"/>
<line x1="445.28" y1="221.1" x2="456.38" y2="213.35" stroke="#422ec0" stroke-width="0.85" stroke-linecap="round"/>
<line x1="456.38" y1="213.35" x2="446.84" y2="196.15" stroke="#4741e5" stroke-width="0.85" stroke-linecap="round"/>
<line x1="446.84" y1="196.15" x2="435.74" y2="217.81" stroke="#463cde" stroke-width="0.85" stroke-linecap="round"/>
<line x1="435.74" y1="217.81" x2="445.28" y2="221.1" stroke="#402ab4" stroke-width="0.85" stroke-linecap="round"/>
<polygon points="574.53,221.71 584.8,213.88 577.77,216.3 567.49,221.22" fill="#fff" stroke="none"/>
<line x1="574.53" y1="221.71" x2="584.8" y2="213.88" stroke="#4332cb" stroke-width="0.85" stroke-linecap="round"/>
<line x1="584.8" y1="213.88" x2="577.77" y2="216.3" stroke="#422ec0" stroke-width="0.85" stroke-linecap="round"/>
<line x1="577.77" y1="216.3" x2="567.49" y2="221.22" stroke="#3e26a8" stroke-width="0.85" stroke-linecap="round"/>
<line x1="567.49" y1="221.22" x2="574.53" y2="221.71" stroke="#3e26a8" stroke-width="0.85" stroke-linecap="round"/>
<polygon points="444.05,221.79 445.28,221.1 435.74,217.81 434.51,219.51" fill="#fff" stroke="none"/>
<line x1="444.05" y1="221.79" x2="445.28" y2="221.1" stroke="#402ab4" stroke-width="0.85" stroke-linecap="round"/>
<line x1="445.28" y1="221.1" x2="435.74" y2="217.81" stroke="#402ab4" stroke-width="0.85" stroke-linecap="round"/>
<line x1="435.74" y1="217.81" x2="434.51" y2="219.51" stroke="#3e26a8" stroke-width="0.85" stroke-linecap="round"/>
<line x1="434.51" y1="219.51" x2="444.05" y2="221.79" stroke="#3e26a8" stroke-width="0.85" stroke-linecap="round"/>
<polygon points="497.03,224.08 507.31,221.68 494.69,211.46 484.42,214.49" fill="#fff" stroke="none"/>
<line x1="497.03" y1="224.08" x2="507.31" y2="221.68" stroke="#402ab4" stroke-width="0.85" stroke-linecap="round"/>
<line x1="507.31" y1="221.68" x2="494.69" y2="211.46" stroke="#402ab4" stroke-width="0.85" stroke-linecap="round"/>
<line x1="494.69" y1="211.46" x2="484.42" y2="214.49" stroke="#422ec0" stroke-width="0.85" stroke-linecap="round"/>
<line x1="484.42" y1="214.49" x2="497.03" y2="224.08" stroke="#422ec0" stroke-width="0.85" stroke-linecap="round"/>
<polygon points="516.85,226.24 537.4,220.95 527.86,216.14 507.31,221.68" fill="#fff" stroke="none"/>
<line x1="516.85" y1="226.24" x2="537.4" y2="220.95" stroke="#402ab4" stroke-width="0.85" stroke-linecap="round"/>
<line x1="537.4" y1="220.95" x2="527.86" y2="216.14" stroke="#3e26a8" stroke-width="0.85" stroke-linecap="round"/>
<line x1="527.86" y1="216.14" x2="507.31" y2="221.68" stroke="#3e26a8" stroke-width="0.85" stroke-linecap="round"/>
<line x1="507.31" y1="221.68" x2="516.85" y2="226.24" stroke="#402ab4" stroke-width="0.85" stroke-linecap="round"/>
<polygon points="465.92,219.17 474.14,217.51 464.6,209.16 456.38,213.35" fill="#fff" stroke="none"/>
<line x1="465.92" y1="219.17" x2="474.14" y2="217.51" stroke="#4332cb" stroke-width="0.85" stroke-linecap="round"/>
<line x1="474.14" y1="217.51" x2="464.6" y2="209.16" stroke="#4332cb" stroke-width="0.85" stroke-linecap="round"/>
<line x1="464.6" y1="209.16" x2="456.38" y2="213.35" stroke="#4537d5" stroke-width="0.85" stroke-linecap="round"/>
<line x1="456.38" y1="213.35" x2="465.92" y2="219.17" stroke="#4332cb" stroke-width="0.85" stroke-linecap="round"/>
<polygon points="486.76,226.47 497.03,224.08 484.42,214.49 474.14,217.51" fill="#fff" stroke="none"/>
<line x1="486.76" y1="226.47" x2="497.03" y2="224.08" stroke="#422ec0" stroke-width="0.85" stroke-linecap="round"/>
<line x1="497.03" y1="224.08" x2="484.42" y2="214.49" stroke="#422ec0" stroke-width="0.85" stroke-linecap="round"/>
<line x1="484.42" y1="214.49" x2="474.14" y2="217.51" stroke="#4332cb" stroke-width="0.85" stroke-linecap="round"/>
<line x1="474.14" y1="217.51" x2="486.76" y2="226.47" stroke="#422ec0" stroke-width="0.85" stroke-linecap="round"/>
<polygon points="553.98,227.13 574.53,221.71 567.49,221.22 546.94,228.54" fill="#fff" stroke="none"/>
<line x1="553.98" y1="227.13" x2="574.53" y2="221.71" stroke="#422ec0" stroke-width="0.85" stroke-linecap="round"/>
<line x1="574.53" y1="221.71" x2="567.49" y2="221.22" stroke="#3e26a8" stroke-width="0.85" stroke-linecap="round"/>
<line x1="567.49" y1="221.22" x2="546.94" y2="228.54" stroke="#3e26a8" stroke-width="0.85" stroke-linecap="round"/>
<line x1="546.94" y1="228.54" x2="553.98" y2="227.13" stroke="#402ab4" stroke-width="0.85" stroke-linecap="round"/>
<polygon points="454.83,219.71 465.92,219.17 456.38,213.35 445.28,221.1" fill="#fff" stroke="none"/>
<line x1="454.83" y1="219.71" x2="465.92" y2="219.17" stroke="#4537d5" stroke-width="0.85" stroke-linecap="round"/>
<line x1="465.92" y1="219.17" x2="456.38" y2="213.35" stroke="#4332cb" stroke-width="0.85" stroke-linecap="round"/>
<line x1="456.38" y1="213.35" x2="445.28" y2="221.1" stroke="#422ec0" stroke-width="0.85" stroke-linecap="round"/>
<line x1="445.28" y1="221.1" x2="454.83" y2="219.71" stroke="#4332cb" stroke-width="0.85" stroke-linecap="round"/>
<polygon points="453.59,220.15 454.83,219.71 445.28,221.1 444.05,221.79" fill="#fff" stroke="none"/>
<line x1="453.59" y1="220.15" x2="454.83" y2="219.71" stroke="#463cde" stroke-width="0.85" stroke-linecap="round"/>
<line x1="454.83" y1="219.71" x2="445.28" y2="221.1" stroke="#4332cb" stroke-width="0.85" stroke-linecap="round"/>
<line x1="445.28" y1="221.1" x2="444.05" y2="221.79" stroke="#402ab4" stroke-width="0.85" stroke-linecap="round"/>
<line x1="444.05" y1="221.79" x2="453.59" y2="220.15" stroke="#4332cb" stroke-width="0.85" stroke-linecap="round"/>
<polygon points="506.57,226.35 516.85,226.24 507.31,221.68 497.03,224.08" fill="#fff" stroke="none"/>
<line x1="506.57" y1="226.35" x2="516.85" y2="226.24" stroke="#422ec0" stroke-width="0.85" stroke-linecap="round"/>
<line x1="516.85" y1="226.24" x2="507.31" y2="221.68" stroke="#402ab4" stroke-width="0.85" stroke-linecap="round"/>
<line x1="507.31" y1="221.68" x2="497.03" y2="224.08" stroke="#402ab4" stroke-width="0.85" stroke-linecap="round"/>
<line x1="497.03" y1="224.08" x2="506.57" y2="226.35" stroke="#422ec0" stroke-width="0.85" stroke-linecap="round"/>
<polygon points="526.39,223.2 546.94,228.54 537.4,220.95 516.85,226.24" fill="#fff" stroke="none"/>
<line x1="526.39" y1="223.2" x2="546.94" y2="228.54" stroke="#4332cb" stroke-width="0.85" stroke-linecap="round"/>
<line x1="546.94" y1="228.54" x2="537.4" y2="220.95" stroke="#3e26a8" stroke-width="0.85" stroke-linecap="round"/>
<line x1="537.4" y1="220.95" x2="516.85" y2="226.24" stroke="#402ab4" stroke-width="0.85" stroke-linecap="round"/>
<line x1="516.85" y1="226.24" x2="526.39" y2="223.2" stroke="#4537d5" stroke-width="0.85" stroke-linecap="round"/>
<polygon points="478.54,225.6 486.76,226.47 474.14,217.51 465.92,219.17" fill="#fff" stroke="none"/>
<line x1="478.54" y1="225.6" x2="486.76" y2="226.47" stroke="#4332cb" stroke-width="0.85" stroke-linecap="round"/>
<line x1="486.76" y1="226.47" x2="474.14" y2="217.51" stroke="#422ec0" stroke-width="0.85" stroke-linecap="round"/>
<line x1="474.14" y1="217.51" x2="465.92" y2="219.17" stroke="#4332cb" stroke-width="0.85" stroke-linecap="round"/>
<line x1="465.92" y1="219.17" x2="478.54" y2="225.6" stroke="#4537d5" stroke-width="0.85" stroke-linecap="round"/>
<polygon points="496.3,229.76 506.57,226.35 497.03,224.08 486.76,226.47" fill="#fff" stroke="none"/>
<line x1="496.3" y1="229.76" x2="506.57" y2="226.35" stroke="#4332cb" stroke-width="0.85" stroke-linecap="round"/>
<line x1="506.57" y1="226.35" x2="497.03" y2="224.08" stroke="#422ec0" stroke-width="0.85" stroke-linecap="round"/>
<line x1="497.03" y1="224.08" x2="486.76" y2="226.47" stroke="#422ec0" stroke-width="0.85" stroke-linecap="round"/>
<line x1="486.76" y1="226.47" x2="496.3" y2="229.76" stroke="#4332cb" stroke-width="0.85" stroke-linecap="round"/>
<polygon points="467.44,220.7 478.54,225.6 465.92,219.17 454.83,219.71" fill="#fff" stroke="none"/>
<line x1="467.44" y1="220.7" x2="478.54" y2="225.6" stroke="#4741e5" stroke-width="0.85" stroke-linecap="round"/>
<line x1="478.54" y1="225.6" x2="465.92" y2="219.17" stroke="#4537d5" stroke-width="0.85" stroke-linecap="round"/>
<line x1="465.92" y1="219.17" x2="454.83" y2="219.71" stroke="#4537d5" stroke-width="0.85" stroke-linecap="round"/>
<line x1="454.83" y1="219.71" x2="467.44" y2="220.7" stroke="#4747eb" stroke-width="0.85" stroke-linecap="round"/>
<polygon points="533.43,219.02 553.98,227.13 546.94,228.54 526.39,223.2" fill="#fff" stroke="none"/>
<line x1="533.43" y1="219.02" x2="553.98" y2="227.13" stroke="#4747eb" stroke-width="0.85" stroke-linecap="round"/>
<line x1="553.98" y1="227.13" x2="546.94" y2="228.54" stroke="#402ab4" stroke-width="0.85" stroke-linecap="round"/>
<line x1="546.94" y1="228.54" x2="526.39" y2="223.2" stroke="#4332cb" stroke-width="0.85" stroke-linecap="round"/>
<line x1="526.39" y1="223.2" x2="533.43" y2="219.02" stroke="#484df0" stroke-width="0.85" stroke-linecap="round"/>
<polygon points="516.12,220.54 526.39,223.2 516.85,226.24 506.57,226.35" fill="#fff" stroke="none"/>
<line x1="516.12" y1="220.54" x2="526.39" y2="223.2" stroke="#484df0" stroke-width="0.85" stroke-linecap="round"/>
<line x1="526.39" y1="223.2" x2="516.85" y2="226.24" stroke="#4537d5" stroke-width="0.85" stroke-linecap="round"/>
<line x1="516.85" y1="226.24" x2="506.57" y2="226.35" stroke="#422ec0" stroke-width="0.85" stroke-linecap="round"/>
<line x1="506.57" y1="226.35" x2="516.12" y2="220.54" stroke="#4741e5" stroke-width="0.85" stroke-linecap="round"/>
<polygon points="488.08,226.36 496.3,229.76 486.76,226.47 478.54,225.6" fill="#fff" stroke="none"/>
<line x1="488.08" y1="226.36" x2="496.3" y2="229.76" stroke="#463cde" stroke-width="0.85" stroke-linecap="round"/>
<line x1="496.3" y1="229.76" x2="486.76" y2="226.47" stroke="#4332cb" stroke-width="0.85" stroke-linecap="round"/>
<line x1="486.76" y1="226.47" x2="478.54" y2="225.6" stroke="#4332cb" stroke-width="0.85" stroke-linecap="round"/>
<line x1="478.54" y1="225.6" x2="488.08" y2="226.36" stroke="#463cde" stroke-width="0.85" stroke-linecap="round"/>
<polygon points="466.21,221.14 467.44,220.7 454.83,219.71 453.59,220.15" fill="#fff" stroke="none"/>
<line x1="466.21" y1="221.14" x2="467.44" y2="220.7" stroke="#4852f4" stroke-width="0.85" stroke-linecap="round"/>
<line x1="467.44" y1="220.7" x2="454.83" y2="219.71" stroke="#4747eb" stroke-width="0.85" stroke-linecap="round"/>
<line x1="454.83" y1="219.71" x2="453.59" y2="220.15" stroke="#463cde" stroke-width="0.85" stroke-linecap="round"/>
<line x1="453.59" y1="220.15" x2="466.21" y2="221.14" stroke="#4747eb" stroke-width="0.85" stroke-linecap="round"/>
<polygon points="505.84,220.4 516.12,220.54 506.57,226.35 496.3,229.76" fill="#fff" stroke="none"/>
<line x1="505.84" y1="220.4" x2="516.12" y2="220.54" stroke="#4758f8" stroke-width="0.85" stroke-linecap="round"/>
<line x1="516.12" y1="220.54" x2="506.57" y2="226.35" stroke="#4741e5" stroke-width="0.85" stroke-linecap="round"/>
<line x1="506.57" y1="226.35" x2="496.3" y2="229.76" stroke="#4332cb" stroke-width="0.85" stroke-linecap="round"/>
<line x1="496.3" y1="229.76" x2="505.84" y2="220.4" stroke="#4747eb" stroke-width="0.85" stroke-linecap="round"/>
<polygon points="476.98,218.93 488.08,226.36 478.54,225.6 467.44,220.7" fill="#fff" stroke="none"/>
<line x1="476.98" y1="218.93" x2="488.08" y2="226.36" stroke="#4758f8" stroke-width="0.85" stroke-linecap="round"/>
<line x1="488.08" y1="226.36" x2="478.54" y2="225.6" stroke="#463cde" stroke-width="0.85" stroke-linecap="round"/>
<line x1="478.54" y1="225.6" x2="467.44" y2="220.7" stroke="#4741e5" stroke-width="0.85" stroke-linecap="round"/>
<line x1="467.44" y1="220.7" x2="476.98" y2="218.93" stroke="#465efb" stroke-width="0.85" stroke-linecap="round"/>
<polygon points="523.15,217.11 533.43,219.02 526.39,223.2 516.12,220.54" fill="#fff" stroke="none"/>
<line x1="523.15" y1="217.11" x2="533.43" y2="219.02" stroke="#4563fd" stroke-width="0.85" stroke-linecap="round"/>
<line x1="533.43" y1="219.02" x2="526.39" y2="223.2" stroke="#484df0" stroke-width="0.85" stroke-linecap="round"/>
<line x1="526.39" y1="223.2" x2="516.12" y2="220.54" stroke="#484df0" stroke-width="0.85" stroke-linecap="round"/>
<line x1="516.12" y1="220.54" x2="523.15" y2="217.11" stroke="#465efb" stroke-width="0.85" stroke-linecap="round"/>
<polygon points="497.62,221.43 505.84,220.4 496.3,229.76 488.08,226.36" fill="#fff" stroke="none"/>
<line x1="497.62" y1="221.43" x2="505.84" y2="220.4" stroke="#4563fd" stroke-width="0.85" stroke-linecap="round"/>
<line x1="505.84" y1="220.4" x2="496.3" y2="229.76" stroke="#4747eb" stroke-width="0.85" stroke-linecap="round"/>
<line x1="496.3" y1="229.76" x2="488.08" y2="226.36" stroke="#463cde" stroke-width="0.85" stroke-linecap="round"/>
<line x1="488.08" y1="226.36" x2="497.62" y2="221.43" stroke="#4758f8" stroke-width="0.85" stroke-linecap="round"/>
<polygon points="475.75,219.37 476.98,218.93 467.44,220.7 466.21,221.14" fill="#fff" stroke="none"/>
<line x1="475.75" y1="219.37" x2="476.98" y2="218.93" stroke="#4269fe" stroke-width="0.85" stroke-linecap="round"/>
<line x1="476.98" y1="218.93" x2="467.44" y2="220.7" stroke="#465efb" stroke-width="0.85" stroke-linecap="round"/>
<line x1="467.44" y1="220.7" x2="466.21" y2="221.14" stroke="#4852f4" stroke-width="0.85" stroke-linecap="round"/>
<line x1="466.21" y1="221.14" x2="475.75" y2="219.37" stroke="#465efb" stroke-width="0.85" stroke-linecap="round"/>
<polygon points="512.88,215.33 523.15,217.11 516.12,220.54 505.84,220.4" fill="#fff" stroke="none"/>
<line x1="512.88" y1="215.33" x2="523.15" y2="217.11" stroke="#3875fe" stroke-width="0.85" stroke-linecap="round"/>
<line x1="523.15" y1="217.11" x2="516.12" y2="220.54" stroke="#465efb" stroke-width="0.85" stroke-linecap="round"/>
<line x1="516.12" y1="220.54" x2="505.84" y2="220.4" stroke="#4758f8" stroke-width="0.85" stroke-linecap="round"/>
<line x1="505.84" y1="220.4" x2="512.88" y2="215.33" stroke="#3e6fff" stroke-width="0.85" stroke-linecap="round"/>
<polygon points="486.53,217.16 497.62,221.43 488.08,226.36 476.98,218.93" fill="#fff" stroke="none"/>
<line x1="486.53" y1="217.16" x2="497.62" y2="221.43" stroke="#3875fe" stroke-width="0.85" stroke-linecap="round"/>
<line x1="497.62" y1="221.43" x2="488.08" y2="226.36" stroke="#4758f8" stroke-width="0.85" stroke-linecap="round"/>
<line x1="488.08" y1="226.36" x2="476.98" y2="218.93" stroke="#4758f8" stroke-width="0.85" stroke-linecap="round"/>
<line x1="476.98" y1="218.93" x2="486.53" y2="217.16" stroke="#3875fe" stroke-width="0.85" stroke-linecap="round"/>
<polygon points="504.66,213.7 512.88,215.33 505.84,220.4 497.62,221.43" fill="#fff" stroke="none"/>
<line x1="504.66" y1="213.7" x2="512.88" y2="215.33" stroke="#2e87f7" stroke-width="0.85" stroke-linecap="round"/>
<line x1="512.88" y1="215.33" x2="505.84" y2="220.4" stroke="#3e6fff" stroke-width="0.85" stroke-linecap="round"/>
<line x1="505.84" y1="220.4" x2="497.62" y2="221.43" stroke="#4563fd" stroke-width="0.85" stroke-linecap="round"/>
<line x1="497.62" y1="221.43" x2="504.66" y2="213.7" stroke="#327cfc" stroke-width="0.85" stroke-linecap="round"/>
<polygon points="485.29,217.85 486.53,217.16 476.98,218.93 475.75,219.37" fill="#fff" stroke="none"/>
<line x1="485.29" y1="217.85" x2="486.53" y2="217.16" stroke="#2f81fa" stroke-width="0.85" stroke-linecap="round"/>
<line x1="486.53" y1="217.16" x2="476.98" y2="218.93" stroke="#3875fe" stroke-width="0.85" stroke-linecap="round"/>
<line x1="476.98" y1="218.93" x2="475.75" y2="219.37" stroke="#4269fe" stroke-width="0.85" stroke-linecap="round"/>
<line x1="475.75" y1="219.37" x2="485.29" y2="217.85" stroke="#3875fe" stroke-width="0.85" stroke-linecap="round"/>
<polygon points="493.56,212.59 504.66,213.7 497.62,221.43 486.53,217.16" fill="#fff" stroke="none"/>
<line x1="493.56" y1="212.59" x2="504.66" y2="213.7" stroke="#2b91ef" stroke-width="0.85" stroke-linecap="round"/>
<line x1="504.66" y1="213.7" x2="497.62" y2="221.43" stroke="#327cfc" stroke-width="0.85" stroke-linecap="round"/>
<line x1="497.62" y1="221.43" x2="486.53" y2="217.16" stroke="#3875fe" stroke-width="0.85" stroke-linecap="round"/>
<line x1="486.53" y1="217.16" x2="493.56" y2="212.59" stroke="#2d8cf3" stroke-width="0.85" stroke-linecap="round"/>
<polygon points="492.33,213.03 493.56,212.59 486.53,217.16 485.29,217.85" fill="#fff" stroke="none"/>
<line x1="492.33" y1="213.03" x2="493.56" y2="212.59" stroke="#2797eb" stroke-width="0.85" stroke-linecap="round"/>
<line x1="493.56" y1="212.59" x2="486.53" y2="217.16" stroke="#2d8cf3" stroke-width="0.85" stroke-linecap="round"/>
<line x1="486.53" y1="217.16" x2="485.29" y2="217.85" stroke="#2f81fa" stroke-width="0.85" stroke-linecap="round"/>
<line x1="485.29" y1="217.85" x2="492.33" y2="213.03" stroke="#2d8cf3" stroke-width="0.85" stroke-linecap="round"/>
<text transform="translate(404.3,81.3) scale(0.95,1)" font-size="16.6" text-anchor="end">100%</text>
<text transform="translate(404.3,144.6) scale(0.95,1)" font-size="16.6" text-anchor="end">50%</text>
<text transform="translate(404.3,195.2) scale(0.95,1)" font-size="16.6" text-anchor="end">10%</text>
<text transform="translate(353.55,160.7) rotate(-90) scale(1.1,1)" font-size="16.4">Loss</text>
<text x="380.79" y="229.6" font-size="16.6">10</text>
<text x="396.75" y="221.7" font-size="13">3</text>
<text x="412.79" y="248.9" font-size="16.6">10</text>
<text x="428.65" y="240.4" font-size="13">2</text>
<text x="475.79" y="286.9" font-size="16.6">10</text>
<text x="492.05" y="279.2" font-size="13">0</text>
<text x="423.95" y="290.8" font-size="19.2" font-style="italic">C</text>
<text transform="translate(515.05,283.6) scale(0.95,1)" font-size="16.6">0</text>
<text transform="translate(576.65,261.7) scale(0.95,1)" font-size="16.6">0.5</text>
<text transform="translate(638.75,239.5) scale(0.95,1)" font-size="16.6">1</text>
<text x="581.45" y="289.7" font-size="16.5" font-style="italic">p</text>
<text x="422.3" y="77.3" font-size="20" font-style="italic">b</text>
<text x="431.7" y="80.6" font-size="13">1</text>
<rect x="446.55" y="70.6" width="13.3" height="1.15" fill="#111"/><rect x="446.55" y="74.55" width="13.3" height="1.15" fill="#111"/>
<text x="466.6" y="77.3" font-size="20" font-style="italic">b</text>
<text x="476.2" y="80.6" font-size="13">2</text>
<rect x="490.55" y="70.6" width="13.3" height="1.15" fill="#111"/><rect x="490.55" y="74.55" width="13.3" height="1.15" fill="#111"/>
<text x="511.5" y="77.2" font-size="18.3">2</text>
<text transform="translate(318.4,21.6) scale(0.93,1)" font-size="32" font-weight="bold">b</text>
</svg></body></html>
